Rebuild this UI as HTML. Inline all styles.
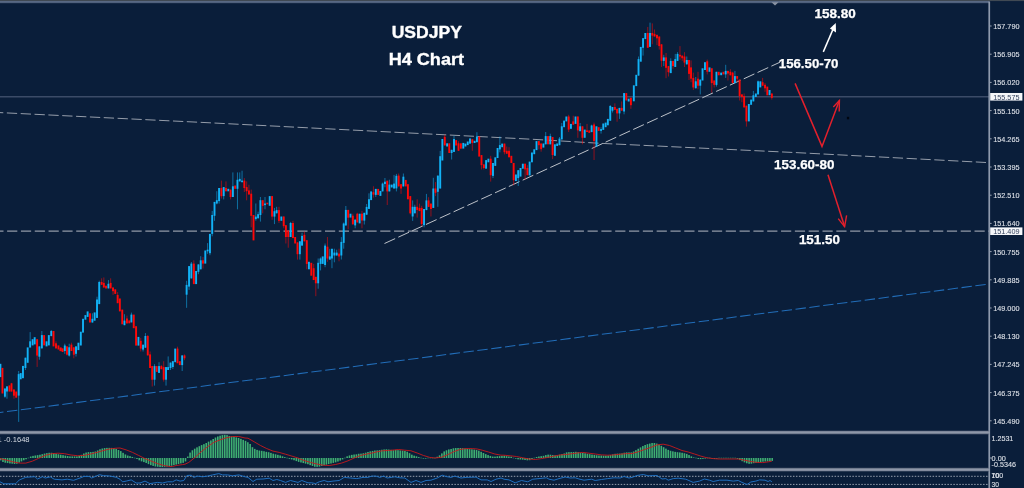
<!DOCTYPE html>
<html lang="en"><head><meta charset="utf-8"><title>USDJPY H4 Chart</title>
<style>html,body{margin:0;padding:0;background:#0a1e3a;overflow:hidden}svg{display:block}text{font-family:"Liberation Sans",Arial,sans-serif}.ax{font-size:8px;fill:#dde1e8;stroke:#dde1e8;stroke-width:0.1px}.lbl{font-size:11.9px;font-weight:bold;fill:#ffffff;stroke:#ffffff;stroke-width:0.25px}.ttl{font-size:16.3px;font-weight:bold;fill:#ffffff;stroke:#ffffff;stroke-width:0.35px}</style></head><body>
<svg width="1024" height="488" viewBox="0 0 1024 488">
<defs><linearGradient id="tb" x1="0" y1="0" x2="0" y2="1"><stop offset="0" stop-color="#434f62"/><stop offset="0.55" stop-color="#5d6c86"/><stop offset="1" stop-color="#0a1e3a"/></linearGradient></defs>
<rect x="0" y="0" width="1024" height="488" fill="#0a1e3a"/>
<rect x="0" y="1" width="989.6" height="2" fill="#5c6d8a"/>
<rect x="0" y="2.7" width="989.6" height="0.6" fill="#33435f"/>
<rect x="0" y="0" width="1024" height="1.1" fill="#404953"/>
<polygon points="771.5,2.2 778.5,2.2 775,5.6" fill="#8a93a3"/>
<rect x="0" y="96" width="989" height="1.5" fill="#3b4b67"/>
<polyline points="0.0,112.6 200.0,122.3 400.0,132.5 533.0,139.3 600.0,143.3 800.0,152.8 986.0,162.5" fill="none" stroke="#959daa" stroke-width="1.0" stroke-dasharray="10.3 3.56" stroke-dashoffset="7"/>
<line x1="0" y1="231.1" x2="989" y2="231.1" stroke="#9199a7" stroke-width="1.45" stroke-dasharray="10.2 3.62" stroke-dashoffset="6.7"/>
<line x1="0" y1="412.5" x2="988" y2="284.2" stroke="#226db8" stroke-width="1.05" stroke-dasharray="10.4 3.55" stroke-dashoffset="6.9"/>
<line x1="384.5" y1="243.5" x2="780" y2="62.2" stroke="#c6cad1" stroke-width="0.95" stroke-dasharray="11.7 3.5"/>
<g>
<rect x="-0.54" y="363.8" width="1.9" height="13.3" fill="#12b2f6"/>
<rect x="1.51" y="367.9" width="1.9" height="25.6" fill="#ff0808"/>
<rect x="4.42" y="388.5" width="1" height="9.2" fill="#12b2f6" opacity="0.55"/>
<rect x="3.97" y="388.5" width="1.9" height="8.2" fill="#12b2f6"/>
<rect x="6.47" y="386.4" width="1" height="12.3" fill="#12b2f6" opacity="0.55"/>
<rect x="6.02" y="386.4" width="1.9" height="5.1" fill="#12b2f6"/>
<rect x="8.49" y="385.4" width="1.9" height="6.2" fill="#ff0808"/>
<rect x="10.99" y="382.9" width="1" height="8.6" fill="#ff0808" opacity="0.55"/>
<rect x="10.54" y="383.3" width="1.9" height="8.2" fill="#ff0808"/>
<rect x="13.45" y="389.5" width="1" height="9.2" fill="#ff0808" opacity="0.55"/>
<rect x="13.00" y="389.5" width="1.9" height="6.2" fill="#ff0808"/>
<rect x="15.26" y="391.5" width="1.9" height="6.2" fill="#ff0808"/>
<rect x="18.17" y="371.0" width="1" height="50.9" fill="#12b2f6" opacity="0.55"/>
<rect x="17.72" y="374.1" width="1.9" height="21.5" fill="#12b2f6"/>
<rect x="19.77" y="373.1" width="1.9" height="6.2" fill="#12b2f6"/>
<rect x="22.02" y="365.9" width="1.9" height="12.3" fill="#12b2f6"/>
<rect x="24.94" y="357.7" width="1" height="12.3" fill="#12b2f6" opacity="0.55"/>
<rect x="24.49" y="357.7" width="1.9" height="10.3" fill="#12b2f6"/>
<rect x="26.74" y="347.4" width="1.9" height="15.4" fill="#12b2f6"/>
<rect x="29.65" y="332.1" width="1" height="15.4" fill="#12b2f6" opacity="0.55"/>
<rect x="29.20" y="341.3" width="1.9" height="6.2" fill="#12b2f6"/>
<rect x="31.67" y="339.2" width="1.9" height="6.2" fill="#12b2f6"/>
<rect x="33.72" y="337.2" width="1.9" height="7.2" fill="#12b2f6"/>
<rect x="36.63" y="339.2" width="1" height="27.7" fill="#ff0808" opacity="0.55"/>
<rect x="36.18" y="339.2" width="1.9" height="16.4" fill="#ff0808"/>
<rect x="38.88" y="346.4" width="1" height="13.3" fill="#12b2f6" opacity="0.55"/>
<rect x="38.43" y="346.4" width="1.9" height="10.3" fill="#12b2f6"/>
<rect x="41.35" y="331.0" width="1" height="17.4" fill="#12b2f6" opacity="0.55"/>
<rect x="40.90" y="335.1" width="1.9" height="13.3" fill="#12b2f6"/>
<rect x="43.15" y="335.1" width="1.9" height="10.3" fill="#ff0808"/>
<rect x="45.61" y="341.3" width="1.9" height="5.1" fill="#12b2f6"/>
<rect x="47.87" y="335.1" width="1.9" height="10.3" fill="#12b2f6"/>
<rect x="50.78" y="330.0" width="1" height="6.2" fill="#12b2f6" opacity="0.55"/>
<rect x="50.33" y="331.0" width="1.9" height="5.1" fill="#12b2f6"/>
<rect x="52.59" y="331.0" width="1.9" height="15.4" fill="#ff0808"/>
<rect x="55.50" y="341.3" width="1" height="7.2" fill="#ff0808" opacity="0.55"/>
<rect x="55.05" y="343.3" width="1.9" height="5.1" fill="#ff0808"/>
<rect x="57.51" y="345.4" width="1.9" height="4.1" fill="#ff0808"/>
<rect x="59.60" y="348.3" width="1.9" height="2.8" fill="#ff0808"/>
<rect x="59.77" y="347.4" width="1.9" height="3.7" fill="#ff0808"/>
<rect x="61.63" y="348.3" width="1.9" height="3.7" fill="#ff0808"/>
<rect x="64.29" y="343.7" width="1" height="10.1" fill="#12b2f6" opacity="0.55"/>
<rect x="63.84" y="345.5" width="1.9" height="5.5" fill="#12b2f6"/>
<rect x="66.50" y="346.4" width="1" height="9.2" fill="#ff0808" opacity="0.55"/>
<rect x="66.05" y="346.4" width="1.9" height="8.3" fill="#ff0808"/>
<rect x="68.71" y="343.7" width="1" height="12.9" fill="#12b2f6" opacity="0.55"/>
<rect x="68.26" y="347.3" width="1.9" height="8.3" fill="#12b2f6"/>
<rect x="70.92" y="342.7" width="1" height="8.3" fill="#ff0808" opacity="0.55"/>
<rect x="70.47" y="344.6" width="1.9" height="6.4" fill="#ff0808"/>
<rect x="73.31" y="347.3" width="1" height="11.0" fill="#ff0808" opacity="0.55"/>
<rect x="72.86" y="347.3" width="1.9" height="7.4" fill="#ff0808"/>
<rect x="75.52" y="346.4" width="1" height="10.1" fill="#12b2f6" opacity="0.55"/>
<rect x="75.07" y="346.4" width="1.9" height="7.4" fill="#12b2f6"/>
<rect x="77.47" y="342.7" width="1.9" height="7.4" fill="#12b2f6"/>
<rect x="79.86" y="331.7" width="1.9" height="13.8" fill="#12b2f6"/>
<rect x="82.07" y="318.8" width="1.9" height="13.8" fill="#12b2f6"/>
<rect x="84.46" y="315.1" width="1.9" height="4.6" fill="#12b2f6"/>
<rect x="86.67" y="311.4" width="1.9" height="5.5" fill="#12b2f6"/>
<rect x="89.07" y="313.3" width="1.9" height="9.2" fill="#ff0808"/>
<rect x="91.91" y="313.3" width="1" height="9.2" fill="#12b2f6" opacity="0.55"/>
<rect x="91.46" y="318.8" width="1.9" height="3.7" fill="#12b2f6"/>
<rect x="93.67" y="312.4" width="1.9" height="8.3" fill="#12b2f6"/>
<rect x="96.52" y="296.7" width="1" height="21.2" fill="#12b2f6" opacity="0.55"/>
<rect x="96.07" y="299.5" width="1.9" height="18.4" fill="#12b2f6"/>
<rect x="98.73" y="280.7" width="1" height="23.4" fill="#12b2f6" opacity="0.55"/>
<rect x="98.28" y="282.0" width="1.9" height="22.1" fill="#12b2f6"/>
<rect x="101.12" y="278.3" width="1" height="6.4" fill="#ff0808" opacity="0.55"/>
<rect x="100.67" y="282.0" width="1.9" height="2.8" fill="#ff0808"/>
<rect x="103.33" y="277.4" width="1" height="10.1" fill="#ff0808" opacity="0.55"/>
<rect x="102.88" y="282.9" width="1.9" height="4.6" fill="#ff0808"/>
<rect x="105.09" y="285.7" width="1.9" height="2.8" fill="#ff0808"/>
<rect x="107.93" y="280.1" width="1" height="8.3" fill="#12b2f6" opacity="0.55"/>
<rect x="107.48" y="283.8" width="1.9" height="4.6" fill="#12b2f6"/>
<rect x="110.14" y="278.3" width="1" height="10.1" fill="#ff0808" opacity="0.55"/>
<rect x="109.69" y="282.9" width="1.9" height="5.5" fill="#ff0808"/>
<rect x="112.54" y="287.5" width="1" height="7.4" fill="#ff0808" opacity="0.55"/>
<rect x="112.09" y="287.5" width="1.9" height="3.7" fill="#ff0808"/>
<rect x="114.30" y="289.3" width="1.9" height="4.6" fill="#ff0808"/>
<rect x="117.14" y="292.1" width="1" height="11.0" fill="#ff0808" opacity="0.55"/>
<rect x="116.69" y="294.9" width="1.9" height="8.3" fill="#ff0808"/>
<rect x="118.90" y="298.5" width="1.9" height="12.9" fill="#ff0808"/>
<rect x="121.30" y="309.6" width="1.9" height="14.7" fill="#ff0808"/>
<rect x="123.96" y="314.2" width="1" height="11.0" fill="#12b2f6" opacity="0.55"/>
<rect x="123.51" y="320.6" width="1.9" height="4.6" fill="#12b2f6"/>
<rect x="126.44" y="315.6" width="1" height="7.8" fill="#ff0808" opacity="0.55"/>
<rect x="125.99" y="318.5" width="1.9" height="4.9" fill="#ff0808"/>
<rect x="128.33" y="320.4" width="1.9" height="2.9" fill="#ff0808"/>
<rect x="130.92" y="312.6" width="1" height="9.7" fill="#12b2f6" opacity="0.55"/>
<rect x="130.47" y="314.6" width="1.9" height="7.8" fill="#12b2f6"/>
<rect x="132.80" y="314.6" width="1.9" height="13.6" fill="#ff0808"/>
<rect x="135.13" y="326.2" width="1.9" height="19.4" fill="#ff0808"/>
<rect x="137.47" y="336.9" width="1.9" height="8.7" fill="#12b2f6"/>
<rect x="140.25" y="337.9" width="1" height="13.6" fill="#ff0808" opacity="0.55"/>
<rect x="139.80" y="340.8" width="1.9" height="7.8" fill="#ff0808"/>
<rect x="142.58" y="344.7" width="1" height="6.8" fill="#12b2f6" opacity="0.55"/>
<rect x="142.13" y="344.7" width="1.9" height="4.9" fill="#12b2f6"/>
<rect x="144.92" y="333.1" width="1" height="14.6" fill="#12b2f6" opacity="0.55"/>
<rect x="144.47" y="336.0" width="1.9" height="11.7" fill="#12b2f6"/>
<rect x="147.25" y="335.0" width="1" height="20.4" fill="#ff0808" opacity="0.55"/>
<rect x="146.80" y="336.0" width="1.9" height="19.4" fill="#ff0808"/>
<rect x="149.58" y="351.5" width="1" height="16.5" fill="#ff0808" opacity="0.55"/>
<rect x="149.13" y="354.4" width="1.9" height="13.6" fill="#ff0808"/>
<rect x="151.72" y="366.1" width="1" height="20.4" fill="#ff0808" opacity="0.55"/>
<rect x="151.27" y="366.1" width="1.9" height="13.6" fill="#ff0808"/>
<rect x="154.05" y="364.2" width="1" height="21.4" fill="#12b2f6" opacity="0.55"/>
<rect x="153.60" y="366.1" width="1.9" height="13.6" fill="#12b2f6"/>
<rect x="155.74" y="366.1" width="1.9" height="5.8" fill="#ff0808"/>
<rect x="158.53" y="362.2" width="1" height="10.7" fill="#12b2f6" opacity="0.55"/>
<rect x="158.08" y="366.1" width="1.9" height="6.8" fill="#12b2f6"/>
<rect x="160.86" y="365.1" width="1" height="4.1" fill="#ff0808" opacity="0.55"/>
<rect x="160.41" y="366.1" width="1.9" height="3.1" fill="#ff0808"/>
<rect x="163.19" y="361.2" width="1" height="20.4" fill="#ff0808" opacity="0.55"/>
<rect x="162.74" y="367.1" width="1.9" height="12.6" fill="#ff0808"/>
<rect x="165.53" y="367.1" width="1" height="18.5" fill="#12b2f6" opacity="0.55"/>
<rect x="165.08" y="367.1" width="1.9" height="12.6" fill="#12b2f6"/>
<rect x="167.67" y="356.4" width="1" height="13.6" fill="#12b2f6" opacity="0.55"/>
<rect x="167.22" y="367.1" width="1.9" height="2.9" fill="#12b2f6"/>
<rect x="170.00" y="362.6" width="1" height="7.4" fill="#12b2f6" opacity="0.55"/>
<rect x="169.55" y="362.6" width="1.9" height="5.4" fill="#12b2f6"/>
<rect x="172.33" y="361.2" width="1" height="7.8" fill="#12b2f6" opacity="0.55"/>
<rect x="171.88" y="361.2" width="1.9" height="5.8" fill="#12b2f6"/>
<rect x="174.22" y="348.6" width="1.9" height="13.6" fill="#12b2f6"/>
<rect x="177.00" y="346.7" width="1" height="16.5" fill="#ff0808" opacity="0.55"/>
<rect x="176.55" y="348.6" width="1.9" height="14.6" fill="#ff0808"/>
<rect x="178.88" y="361.2" width="1.9" height="3.9" fill="#ff0808"/>
<rect x="181.67" y="355.4" width="1" height="15.6" fill="#12b2f6" opacity="0.55"/>
<rect x="181.22" y="355.4" width="1.9" height="9.7" fill="#12b2f6"/>
<rect x="184.00" y="354.4" width="1" height="5.8" fill="#ff0808" opacity="0.55"/>
<rect x="183.55" y="355.4" width="1.9" height="2.9" fill="#ff0808"/>
<rect x="186.11" y="280.8" width="1" height="27.0" fill="#12b2f6" opacity="0.55"/>
<rect x="185.66" y="284.9" width="1.9" height="9.8" fill="#12b2f6"/>
<rect x="188.57" y="266.1" width="1" height="23.8" fill="#12b2f6" opacity="0.55"/>
<rect x="188.12" y="266.1" width="1.9" height="20.5" fill="#12b2f6"/>
<rect x="190.86" y="262.0" width="1" height="16.4" fill="#12b2f6" opacity="0.55"/>
<rect x="190.41" y="263.6" width="1.9" height="14.8" fill="#12b2f6"/>
<rect x="193.32" y="260.3" width="1" height="23.8" fill="#ff0808" opacity="0.55"/>
<rect x="192.87" y="263.6" width="1.9" height="20.5" fill="#ff0808"/>
<rect x="195.16" y="271.0" width="1.9" height="13.1" fill="#12b2f6"/>
<rect x="197.91" y="264.4" width="1" height="9.8" fill="#12b2f6" opacity="0.55"/>
<rect x="197.46" y="264.4" width="1.9" height="7.4" fill="#12b2f6"/>
<rect x="200.20" y="256.2" width="1" height="13.1" fill="#12b2f6" opacity="0.55"/>
<rect x="199.75" y="260.3" width="1.9" height="9.0" fill="#12b2f6"/>
<rect x="202.50" y="257.0" width="1" height="11.5" fill="#ff0808" opacity="0.55"/>
<rect x="202.05" y="260.3" width="1.9" height="3.3" fill="#ff0808"/>
<rect x="204.35" y="250.5" width="1.9" height="13.1" fill="#12b2f6"/>
<rect x="207.09" y="243.1" width="1" height="10.7" fill="#12b2f6" opacity="0.55"/>
<rect x="206.64" y="249.7" width="1.9" height="1.6" fill="#12b2f6"/>
<rect x="209.42" y="233.9" width="1" height="21.3" fill="#12b2f6" opacity="0.55"/>
<rect x="208.97" y="233.9" width="1.9" height="19.3" fill="#12b2f6"/>
<rect x="211.71" y="210.9" width="1" height="25.4" fill="#12b2f6" opacity="0.55"/>
<rect x="211.26" y="215.0" width="1.9" height="18.9" fill="#12b2f6"/>
<rect x="214.01" y="201.9" width="1" height="18.9" fill="#12b2f6" opacity="0.55"/>
<rect x="213.56" y="201.9" width="1.9" height="13.9" fill="#12b2f6"/>
<rect x="216.30" y="191.2" width="1" height="13.1" fill="#12b2f6" opacity="0.55"/>
<rect x="215.85" y="200.2" width="1.9" height="3.3" fill="#12b2f6"/>
<rect x="218.60" y="188.0" width="1" height="15.6" fill="#12b2f6" opacity="0.55"/>
<rect x="218.15" y="188.0" width="1.9" height="13.1" fill="#12b2f6"/>
<rect x="220.89" y="180.6" width="1" height="18.0" fill="#ff0808" opacity="0.55"/>
<rect x="220.44" y="188.0" width="1.9" height="8.2" fill="#ff0808"/>
<rect x="223.19" y="187.1" width="1" height="12.3" fill="#12b2f6" opacity="0.55"/>
<rect x="222.74" y="187.1" width="1.9" height="9.0" fill="#12b2f6"/>
<rect x="225.48" y="181.4" width="1" height="9.8" fill="#ff0808" opacity="0.55"/>
<rect x="225.03" y="188.0" width="1.9" height="3.3" fill="#ff0808"/>
<rect x="227.33" y="188.8" width="1.9" height="2.5" fill="#12b2f6"/>
<rect x="230.07" y="189.6" width="1" height="9.8" fill="#ff0808" opacity="0.55"/>
<rect x="229.62" y="189.6" width="1.9" height="7.4" fill="#ff0808"/>
<rect x="232.37" y="172.4" width="1" height="24.6" fill="#12b2f6" opacity="0.55"/>
<rect x="231.92" y="186.3" width="1.9" height="10.7" fill="#12b2f6"/>
<rect x="234.21" y="185.5" width="1.9" height="3.3" fill="#ff0808"/>
<rect x="236.96" y="172.4" width="1" height="36.9" fill="#12b2f6" opacity="0.55"/>
<rect x="236.51" y="179.8" width="1.9" height="9.0" fill="#12b2f6"/>
<rect x="239.25" y="172.4" width="1" height="9.0" fill="#12b2f6" opacity="0.55"/>
<rect x="238.80" y="178.9" width="1.9" height="2.5" fill="#12b2f6"/>
<rect x="241.55" y="170.7" width="1" height="11.5" fill="#12b2f6" opacity="0.55"/>
<rect x="241.10" y="180.6" width="1.9" height="1.6" fill="#12b2f6"/>
<rect x="243.84" y="178.1" width="1" height="13.9" fill="#ff0808" opacity="0.55"/>
<rect x="243.39" y="180.6" width="1.9" height="7.4" fill="#ff0808"/>
<rect x="246.14" y="181.4" width="1" height="18.9" fill="#ff0808" opacity="0.55"/>
<rect x="245.69" y="187.1" width="1.9" height="4.1" fill="#ff0808"/>
<rect x="248.43" y="184.7" width="1" height="9.8" fill="#ff0808" opacity="0.55"/>
<rect x="247.98" y="190.4" width="1.9" height="4.1" fill="#ff0808"/>
<rect x="250.73" y="189.6" width="1" height="37.7" fill="#ff0808" opacity="0.55"/>
<rect x="250.28" y="193.7" width="1.9" height="22.1" fill="#ff0808"/>
<rect x="252.57" y="215.0" width="1.9" height="25.4" fill="#ff0808"/>
<rect x="255.32" y="203.5" width="1" height="17.2" fill="#12b2f6" opacity="0.55"/>
<rect x="254.87" y="216.6" width="1.9" height="2.5" fill="#12b2f6"/>
<rect x="257.61" y="211.7" width="1" height="6.6" fill="#12b2f6" opacity="0.55"/>
<rect x="257.16" y="214.2" width="1.9" height="4.1" fill="#12b2f6"/>
<rect x="259.91" y="197.0" width="1" height="24.6" fill="#12b2f6" opacity="0.55"/>
<rect x="259.46" y="200.2" width="1.9" height="14.8" fill="#12b2f6"/>
<rect x="262.20" y="200.2" width="1" height="13.1" fill="#ff0808" opacity="0.55"/>
<rect x="261.75" y="200.2" width="1.9" height="5.7" fill="#ff0808"/>
<rect x="264.50" y="197.0" width="1" height="12.3" fill="#12b2f6" opacity="0.55"/>
<rect x="264.05" y="203.5" width="1.9" height="1.6" fill="#12b2f6"/>
<rect x="266.35" y="202.7" width="1.9" height="1.6" fill="#ff0808"/>
<rect x="268.77" y="196.1" width="1.9" height="9.7" fill="#12b2f6"/>
<rect x="271.59" y="196.1" width="1" height="23.7" fill="#ff0808" opacity="0.55"/>
<rect x="271.14" y="196.1" width="1.9" height="20.5" fill="#ff0808"/>
<rect x="273.96" y="207.9" width="1" height="16.2" fill="#12b2f6" opacity="0.55"/>
<rect x="273.51" y="211.2" width="1.9" height="5.4" fill="#12b2f6"/>
<rect x="276.12" y="206.8" width="1" height="6.5" fill="#12b2f6" opacity="0.55"/>
<rect x="275.67" y="210.1" width="1.9" height="3.2" fill="#12b2f6"/>
<rect x="278.48" y="206.8" width="1" height="16.2" fill="#ff0808" opacity="0.55"/>
<rect x="278.03" y="210.1" width="1.9" height="10.8" fill="#ff0808"/>
<rect x="280.40" y="216.5" width="1.9" height="4.3" fill="#12b2f6"/>
<rect x="283.22" y="216.5" width="1" height="11.8" fill="#ff0808" opacity="0.55"/>
<rect x="282.77" y="216.5" width="1.9" height="9.7" fill="#ff0808"/>
<rect x="285.38" y="225.2" width="1" height="18.3" fill="#ff0808" opacity="0.55"/>
<rect x="284.93" y="225.2" width="1.9" height="11.8" fill="#ff0808"/>
<rect x="287.75" y="230.5" width="1" height="17.2" fill="#ff0808" opacity="0.55"/>
<rect x="287.30" y="230.5" width="1.9" height="6.5" fill="#ff0808"/>
<rect x="290.11" y="221.9" width="1" height="15.1" fill="#12b2f6" opacity="0.55"/>
<rect x="289.66" y="223.0" width="1.9" height="14.0" fill="#12b2f6"/>
<rect x="292.48" y="220.8" width="1" height="17.2" fill="#ff0808" opacity="0.55"/>
<rect x="292.03" y="223.0" width="1.9" height="15.1" fill="#ff0808"/>
<rect x="294.19" y="237.0" width="1.9" height="6.5" fill="#ff0808"/>
<rect x="297.01" y="242.4" width="1" height="17.2" fill="#ff0808" opacity="0.55"/>
<rect x="296.56" y="242.4" width="1.9" height="11.8" fill="#ff0808"/>
<rect x="299.38" y="241.3" width="1" height="18.3" fill="#12b2f6" opacity="0.55"/>
<rect x="298.93" y="241.3" width="1.9" height="12.9" fill="#12b2f6"/>
<rect x="301.53" y="232.7" width="1" height="12.9" fill="#12b2f6" opacity="0.55"/>
<rect x="301.08" y="235.9" width="1.9" height="9.7" fill="#12b2f6"/>
<rect x="303.90" y="231.6" width="1" height="9.7" fill="#ff0808" opacity="0.55"/>
<rect x="303.45" y="234.8" width="1.9" height="6.5" fill="#ff0808"/>
<rect x="306.27" y="240.2" width="1" height="29.1" fill="#ff0808" opacity="0.55"/>
<rect x="305.82" y="240.2" width="1.9" height="23.7" fill="#ff0808"/>
<rect x="307.97" y="261.8" width="1.9" height="7.5" fill="#12b2f6"/>
<rect x="310.34" y="262.8" width="1.9" height="12.9" fill="#ff0808"/>
<rect x="313.16" y="263.9" width="1" height="16.2" fill="#ff0808" opacity="0.55"/>
<rect x="312.71" y="268.2" width="1.9" height="11.8" fill="#ff0808"/>
<rect x="315.31" y="276.8" width="1" height="19.4" fill="#ff0808" opacity="0.55"/>
<rect x="314.86" y="276.8" width="1.9" height="6.5" fill="#ff0808"/>
<rect x="317.68" y="258.5" width="1" height="30.2" fill="#12b2f6" opacity="0.55"/>
<rect x="317.23" y="262.8" width="1.9" height="20.5" fill="#12b2f6"/>
<rect x="320.05" y="257.5" width="1" height="12.9" fill="#12b2f6" opacity="0.55"/>
<rect x="319.60" y="258.5" width="1.9" height="5.4" fill="#12b2f6"/>
<rect x="321.76" y="256.4" width="1.9" height="7.5" fill="#12b2f6"/>
<rect x="324.58" y="243.5" width="1" height="23.7" fill="#12b2f6" opacity="0.55"/>
<rect x="324.13" y="245.6" width="1.9" height="19.4" fill="#12b2f6"/>
<rect x="326.94" y="237.0" width="1" height="24.8" fill="#ff0808" opacity="0.55"/>
<rect x="326.49" y="246.7" width="1.9" height="11.8" fill="#ff0808"/>
<rect x="329.31" y="248.8" width="1" height="10.8" fill="#12b2f6" opacity="0.55"/>
<rect x="328.86" y="256.4" width="1.9" height="3.2" fill="#12b2f6"/>
<rect x="331.47" y="248.8" width="1" height="19.4" fill="#12b2f6" opacity="0.55"/>
<rect x="331.02" y="248.8" width="1.9" height="9.7" fill="#12b2f6"/>
<rect x="333.86" y="248.7" width="1" height="13.6" fill="#12b2f6" opacity="0.55"/>
<rect x="333.41" y="252.6" width="1.9" height="2.9" fill="#12b2f6"/>
<rect x="336.19" y="249.7" width="1" height="5.8" fill="#12b2f6" opacity="0.55"/>
<rect x="335.74" y="252.6" width="1.9" height="2.9" fill="#12b2f6"/>
<rect x="338.53" y="248.7" width="1" height="12.6" fill="#ff0808" opacity="0.55"/>
<rect x="338.08" y="253.6" width="1.9" height="2.9" fill="#ff0808"/>
<rect x="340.86" y="237.1" width="1" height="22.4" fill="#12b2f6" opacity="0.55"/>
<rect x="340.41" y="241.9" width="1.9" height="13.6" fill="#12b2f6"/>
<rect x="343.19" y="222.5" width="1" height="26.2" fill="#12b2f6" opacity="0.55"/>
<rect x="342.74" y="223.5" width="1.9" height="19.4" fill="#12b2f6"/>
<rect x="345.33" y="206.0" width="1" height="19.4" fill="#12b2f6" opacity="0.55"/>
<rect x="344.88" y="209.9" width="1.9" height="15.6" fill="#12b2f6"/>
<rect x="347.67" y="209.9" width="1" height="19.4" fill="#ff0808" opacity="0.55"/>
<rect x="347.22" y="209.9" width="1.9" height="7.8" fill="#ff0808"/>
<rect x="349.55" y="213.7" width="1.9" height="3.9" fill="#12b2f6"/>
<rect x="352.33" y="213.7" width="1" height="10.7" fill="#ff0808" opacity="0.55"/>
<rect x="351.88" y="215.7" width="1.9" height="8.7" fill="#ff0808"/>
<rect x="354.67" y="219.6" width="1" height="8.7" fill="#12b2f6" opacity="0.55"/>
<rect x="354.22" y="219.6" width="1.9" height="5.8" fill="#12b2f6"/>
<rect x="356.80" y="212.8" width="1" height="9.7" fill="#ff0808" opacity="0.55"/>
<rect x="356.35" y="213.7" width="1.9" height="8.7" fill="#ff0808"/>
<rect x="358.69" y="213.7" width="1.9" height="9.7" fill="#12b2f6"/>
<rect x="361.47" y="210.8" width="1" height="17.5" fill="#ff0808" opacity="0.55"/>
<rect x="361.02" y="213.7" width="1.9" height="6.8" fill="#ff0808"/>
<rect x="363.80" y="212.8" width="1" height="11.7" fill="#12b2f6" opacity="0.55"/>
<rect x="363.35" y="212.8" width="1.9" height="7.8" fill="#12b2f6"/>
<rect x="366.14" y="204.0" width="1" height="10.7" fill="#12b2f6" opacity="0.55"/>
<rect x="365.69" y="206.9" width="1.9" height="7.8" fill="#12b2f6"/>
<rect x="368.47" y="193.3" width="1" height="15.6" fill="#12b2f6" opacity="0.55"/>
<rect x="368.02" y="199.2" width="1.9" height="9.7" fill="#12b2f6"/>
<rect x="370.16" y="191.4" width="1.9" height="8.7" fill="#12b2f6"/>
<rect x="372.94" y="186.3" width="1" height="11.3" fill="#ff0808" opacity="0.55"/>
<rect x="372.49" y="192.2" width="1.9" height="2.4" fill="#ff0808"/>
<rect x="375.28" y="188.9" width="1" height="8.0" fill="#12b2f6" opacity="0.55"/>
<rect x="374.83" y="188.9" width="1.9" height="6.0" fill="#12b2f6"/>
<rect x="377.16" y="188.9" width="1.9" height="6.0" fill="#ff0808"/>
<rect x="379.49" y="190.9" width="1.9" height="5.0" fill="#12b2f6"/>
<rect x="382.08" y="182.6" width="1" height="8.7" fill="#12b2f6" opacity="0.55"/>
<rect x="381.63" y="183.6" width="1.9" height="7.8" fill="#12b2f6"/>
<rect x="384.42" y="178.0" width="1" height="9.3" fill="#12b2f6" opacity="0.55"/>
<rect x="383.97" y="181.7" width="1.9" height="2.3" fill="#12b2f6"/>
<rect x="386.75" y="180.7" width="1" height="24.3" fill="#ff0808" opacity="0.55"/>
<rect x="386.30" y="180.7" width="1.9" height="10.7" fill="#ff0808"/>
<rect x="388.89" y="179.7" width="1" height="11.7" fill="#12b2f6" opacity="0.55"/>
<rect x="388.44" y="184.6" width="1.9" height="6.8" fill="#12b2f6"/>
<rect x="390.77" y="184.6" width="1.9" height="2.9" fill="#12b2f6"/>
<rect x="393.55" y="174.9" width="1" height="13.6" fill="#12b2f6" opacity="0.55"/>
<rect x="393.10" y="183.6" width="1.9" height="4.9" fill="#12b2f6"/>
<rect x="395.89" y="173.9" width="1" height="17.5" fill="#12b2f6" opacity="0.55"/>
<rect x="395.44" y="175.8" width="1.9" height="12.6" fill="#12b2f6"/>
<rect x="398.15" y="173.5" width="1" height="12.9" fill="#ff0808" opacity="0.55"/>
<rect x="397.70" y="175.6" width="1.9" height="10.8" fill="#ff0808"/>
<rect x="400.52" y="184.2" width="1" height="9.7" fill="#ff0808" opacity="0.55"/>
<rect x="400.07" y="184.2" width="1.9" height="4.3" fill="#ff0808"/>
<rect x="402.88" y="173.5" width="1" height="12.9" fill="#12b2f6" opacity="0.55"/>
<rect x="402.43" y="176.7" width="1.9" height="9.7" fill="#12b2f6"/>
<rect x="404.80" y="179.9" width="1.9" height="6.5" fill="#ff0808"/>
<rect x="406.96" y="184.2" width="1.9" height="15.1" fill="#ff0808"/>
<rect x="409.78" y="196.1" width="1" height="18.3" fill="#ff0808" opacity="0.55"/>
<rect x="409.33" y="196.1" width="1.9" height="17.2" fill="#ff0808"/>
<rect x="412.15" y="200.4" width="1" height="20.5" fill="#12b2f6" opacity="0.55"/>
<rect x="411.70" y="206.8" width="1.9" height="9.7" fill="#12b2f6"/>
<rect x="414.30" y="204.7" width="1" height="8.6" fill="#12b2f6" opacity="0.55"/>
<rect x="413.85" y="206.8" width="1.9" height="6.5" fill="#12b2f6"/>
<rect x="416.67" y="199.3" width="1" height="18.3" fill="#ff0808" opacity="0.55"/>
<rect x="416.22" y="206.8" width="1.9" height="3.2" fill="#ff0808"/>
<rect x="419.04" y="203.6" width="1" height="7.5" fill="#ff0808" opacity="0.55"/>
<rect x="418.59" y="207.9" width="1.9" height="3.2" fill="#ff0808"/>
<rect x="421.19" y="205.8" width="1" height="20.5" fill="#ff0808" opacity="0.55"/>
<rect x="420.74" y="207.9" width="1.9" height="16.2" fill="#ff0808"/>
<rect x="423.56" y="209.0" width="1" height="18.3" fill="#12b2f6" opacity="0.55"/>
<rect x="423.11" y="209.0" width="1.9" height="16.2" fill="#12b2f6"/>
<rect x="425.93" y="193.9" width="1" height="16.2" fill="#12b2f6" opacity="0.55"/>
<rect x="425.48" y="200.4" width="1.9" height="9.7" fill="#12b2f6"/>
<rect x="428.08" y="197.2" width="1" height="9.7" fill="#ff0808" opacity="0.55"/>
<rect x="427.63" y="200.4" width="1.9" height="6.5" fill="#ff0808"/>
<rect x="430.45" y="203.6" width="1" height="12.9" fill="#ff0808" opacity="0.55"/>
<rect x="430.00" y="203.6" width="1.9" height="5.4" fill="#ff0808"/>
<rect x="432.82" y="177.8" width="1" height="30.2" fill="#12b2f6" opacity="0.55"/>
<rect x="432.37" y="188.5" width="1.9" height="19.4" fill="#12b2f6"/>
<rect x="434.98" y="182.1" width="1" height="14.0" fill="#ff0808" opacity="0.55"/>
<rect x="434.53" y="188.5" width="1.9" height="4.3" fill="#ff0808"/>
<rect x="437.34" y="175.6" width="1" height="31.2" fill="#12b2f6" opacity="0.55"/>
<rect x="436.89" y="175.6" width="1.9" height="16.2" fill="#12b2f6"/>
<rect x="439.71" y="150.8" width="1" height="37.7" fill="#12b2f6" opacity="0.55"/>
<rect x="439.26" y="156.2" width="1.9" height="32.3" fill="#12b2f6"/>
<rect x="441.42" y="139.0" width="1.9" height="21.5" fill="#12b2f6"/>
<rect x="444.24" y="134.7" width="1" height="10.8" fill="#ff0808" opacity="0.55"/>
<rect x="443.79" y="136.8" width="1.9" height="8.6" fill="#ff0808"/>
<rect x="446.16" y="143.3" width="1.9" height="3.2" fill="#12b2f6"/>
<rect x="448.31" y="143.3" width="1.9" height="9.7" fill="#ff0808"/>
<rect x="451.13" y="149.8" width="1" height="9.7" fill="#12b2f6" opacity="0.55"/>
<rect x="450.68" y="149.8" width="1.9" height="3.2" fill="#12b2f6"/>
<rect x="453.50" y="135.8" width="1" height="16.2" fill="#12b2f6" opacity="0.55"/>
<rect x="453.05" y="139.0" width="1.9" height="12.9" fill="#12b2f6"/>
<rect x="455.20" y="140.1" width="1.9" height="5.4" fill="#ff0808"/>
<rect x="458.02" y="141.2" width="1" height="9.7" fill="#ff0808" opacity="0.55"/>
<rect x="457.57" y="143.3" width="1.9" height="7.5" fill="#ff0808"/>
<rect x="459.94" y="143.3" width="1.9" height="5.4" fill="#ff0808"/>
<rect x="462.34" y="142.9" width="1.9" height="5.7" fill="#12b2f6"/>
<rect x="464.49" y="143.6" width="1.9" height="2.9" fill="#12b2f6"/>
<rect x="466.78" y="141.5" width="1.9" height="3.6" fill="#12b2f6"/>
<rect x="469.53" y="137.9" width="1" height="5.7" fill="#12b2f6" opacity="0.55"/>
<rect x="469.08" y="138.6" width="1.9" height="5.0" fill="#12b2f6"/>
<rect x="471.82" y="139.3" width="1" height="11.5" fill="#ff0808" opacity="0.55"/>
<rect x="471.37" y="139.3" width="1.9" height="3.6" fill="#ff0808"/>
<rect x="473.67" y="140.8" width="1.9" height="2.2" fill="#12b2f6"/>
<rect x="476.41" y="132.2" width="1" height="10.0" fill="#12b2f6" opacity="0.55"/>
<rect x="475.96" y="136.5" width="1.9" height="5.7" fill="#12b2f6"/>
<rect x="478.26" y="136.5" width="1.9" height="20.1" fill="#ff0808"/>
<rect x="481.01" y="155.1" width="1" height="14.3" fill="#ff0808" opacity="0.55"/>
<rect x="480.56" y="155.1" width="1.9" height="10.0" fill="#ff0808"/>
<rect x="483.30" y="164.4" width="1" height="5.0" fill="#ff0808" opacity="0.55"/>
<rect x="482.85" y="164.4" width="1.9" height="3.6" fill="#ff0808"/>
<rect x="485.15" y="160.1" width="1.9" height="8.6" fill="#12b2f6"/>
<rect x="487.44" y="158.7" width="1.9" height="3.6" fill="#12b2f6"/>
<rect x="490.19" y="155.8" width="1" height="25.8" fill="#ff0808" opacity="0.55"/>
<rect x="489.74" y="158.7" width="1.9" height="16.5" fill="#ff0808"/>
<rect x="492.48" y="163.0" width="1" height="15.1" fill="#12b2f6" opacity="0.55"/>
<rect x="492.03" y="163.0" width="1.9" height="12.9" fill="#12b2f6"/>
<rect x="494.33" y="157.3" width="1.9" height="8.6" fill="#12b2f6"/>
<rect x="496.62" y="148.0" width="1.9" height="10.0" fill="#12b2f6"/>
<rect x="499.37" y="136.5" width="1" height="15.8" fill="#12b2f6" opacity="0.55"/>
<rect x="498.92" y="145.1" width="1.9" height="4.3" fill="#12b2f6"/>
<rect x="501.21" y="143.6" width="1.9" height="3.6" fill="#12b2f6"/>
<rect x="503.96" y="143.6" width="1" height="10.8" fill="#ff0808" opacity="0.55"/>
<rect x="503.51" y="143.6" width="1.9" height="8.6" fill="#ff0808"/>
<rect x="506.25" y="146.5" width="1" height="7.2" fill="#ff0808" opacity="0.55"/>
<rect x="505.80" y="150.8" width="1.9" height="2.9" fill="#ff0808"/>
<rect x="508.55" y="147.2" width="1" height="10.0" fill="#ff0808" opacity="0.55"/>
<rect x="508.10" y="150.8" width="1.9" height="6.5" fill="#ff0808"/>
<rect x="510.39" y="155.8" width="1.9" height="7.2" fill="#ff0808"/>
<rect x="513.14" y="163.0" width="1" height="22.2" fill="#ff0808" opacity="0.55"/>
<rect x="512.69" y="163.0" width="1.9" height="17.2" fill="#ff0808"/>
<rect x="514.98" y="174.5" width="1.9" height="6.5" fill="#12b2f6"/>
<rect x="517.73" y="170.2" width="1" height="15.8" fill="#12b2f6" opacity="0.55"/>
<rect x="517.28" y="170.2" width="1.9" height="7.9" fill="#12b2f6"/>
<rect x="519.57" y="168.0" width="1.9" height="8.6" fill="#12b2f6"/>
<rect x="521.87" y="163.7" width="1.9" height="5.0" fill="#12b2f6"/>
<rect x="524.61" y="163.7" width="1" height="15.8" fill="#ff0808" opacity="0.55"/>
<rect x="524.16" y="163.7" width="1.9" height="5.7" fill="#ff0808"/>
<rect x="526.91" y="165.2" width="1" height="10.0" fill="#ff0808" opacity="0.55"/>
<rect x="526.46" y="168.0" width="1.9" height="7.2" fill="#ff0808"/>
<rect x="528.69" y="161.6" width="1.9" height="13.9" fill="#12b2f6"/>
<rect x="530.98" y="152.5" width="1.9" height="9.8" fill="#12b2f6"/>
<rect x="533.28" y="149.3" width="1.9" height="4.9" fill="#12b2f6"/>
<rect x="535.57" y="141.1" width="1.9" height="9.0" fill="#12b2f6"/>
<rect x="538.32" y="141.1" width="1" height="8.2" fill="#ff0808" opacity="0.55"/>
<rect x="537.87" y="141.1" width="1.9" height="4.1" fill="#ff0808"/>
<rect x="540.61" y="143.5" width="1" height="8.2" fill="#ff0808" opacity="0.55"/>
<rect x="540.16" y="143.5" width="1.9" height="5.7" fill="#ff0808"/>
<rect x="542.46" y="143.5" width="1.9" height="4.1" fill="#12b2f6"/>
<rect x="545.20" y="132.0" width="1" height="12.3" fill="#12b2f6" opacity="0.55"/>
<rect x="544.75" y="136.1" width="1.9" height="8.2" fill="#12b2f6"/>
<rect x="547.05" y="136.1" width="1.9" height="8.2" fill="#ff0808"/>
<rect x="549.80" y="133.7" width="1" height="10.7" fill="#12b2f6" opacity="0.55"/>
<rect x="549.35" y="136.1" width="1.9" height="8.2" fill="#12b2f6"/>
<rect x="552.09" y="137.0" width="1" height="22.1" fill="#ff0808" opacity="0.55"/>
<rect x="551.64" y="137.0" width="1.9" height="18.0" fill="#ff0808"/>
<rect x="553.94" y="144.3" width="1.9" height="11.5" fill="#12b2f6"/>
<rect x="556.23" y="143.5" width="1.9" height="2.5" fill="#12b2f6"/>
<rect x="558.98" y="137.0" width="1" height="8.2" fill="#12b2f6" opacity="0.55"/>
<rect x="558.53" y="138.6" width="1.9" height="6.6" fill="#12b2f6"/>
<rect x="561.27" y="123.0" width="1" height="16.4" fill="#12b2f6" opacity="0.55"/>
<rect x="560.82" y="126.3" width="1.9" height="13.1" fill="#12b2f6"/>
<rect x="563.12" y="120.6" width="1.9" height="6.6" fill="#12b2f6"/>
<rect x="565.41" y="116.5" width="1.9" height="4.9" fill="#12b2f6"/>
<rect x="568.16" y="114.8" width="1" height="17.2" fill="#ff0808" opacity="0.55"/>
<rect x="567.71" y="116.5" width="1.9" height="13.1" fill="#ff0808"/>
<rect x="570.00" y="123.9" width="1.9" height="4.9" fill="#12b2f6"/>
<rect x="572.75" y="115.7" width="1" height="9.0" fill="#ff0808" opacity="0.55"/>
<rect x="572.30" y="121.4" width="1.9" height="3.3" fill="#ff0808"/>
<rect x="574.59" y="116.5" width="1.9" height="7.4" fill="#12b2f6"/>
<rect x="577.34" y="116.5" width="1" height="21.3" fill="#ff0808" opacity="0.55"/>
<rect x="576.89" y="116.5" width="1.9" height="13.9" fill="#ff0808"/>
<rect x="579.63" y="123.0" width="1" height="8.2" fill="#12b2f6" opacity="0.55"/>
<rect x="579.18" y="126.3" width="1.9" height="4.9" fill="#12b2f6"/>
<rect x="581.93" y="126.3" width="1" height="18.0" fill="#ff0808" opacity="0.55"/>
<rect x="581.48" y="126.3" width="1.9" height="11.5" fill="#ff0808"/>
<rect x="583.77" y="129.6" width="1.9" height="8.2" fill="#12b2f6"/>
<rect x="586.52" y="123.9" width="1" height="8.2" fill="#ff0808" opacity="0.55"/>
<rect x="586.07" y="130.4" width="1.9" height="1.6" fill="#ff0808"/>
<rect x="588.36" y="130.4" width="1.9" height="2.5" fill="#ff0808"/>
<rect x="591.11" y="124.7" width="1" height="7.4" fill="#12b2f6" opacity="0.55"/>
<rect x="590.66" y="125.5" width="1.9" height="6.6" fill="#12b2f6"/>
<rect x="593.55" y="122.6" width="1" height="37.4" fill="#ff0808" opacity="0.55"/>
<rect x="593.10" y="124.5" width="1.9" height="16.6" fill="#ff0808"/>
<rect x="595.50" y="126.3" width="1.9" height="20.3" fill="#12b2f6"/>
<rect x="597.71" y="127.2" width="1.9" height="3.7" fill="#ff0808"/>
<rect x="600.55" y="127.2" width="1" height="6.4" fill="#12b2f6" opacity="0.55"/>
<rect x="600.10" y="129.1" width="1.9" height="1.8" fill="#12b2f6"/>
<rect x="602.31" y="123.5" width="1.9" height="6.4" fill="#12b2f6"/>
<rect x="604.70" y="122.6" width="1.9" height="4.6" fill="#12b2f6"/>
<rect x="606.91" y="118.9" width="1.9" height="6.4" fill="#12b2f6"/>
<rect x="609.76" y="105.1" width="1" height="15.7" fill="#12b2f6" opacity="0.55"/>
<rect x="609.31" y="106.0" width="1.9" height="14.7" fill="#12b2f6"/>
<rect x="611.97" y="107.0" width="1" height="5.5" fill="#12b2f6" opacity="0.55"/>
<rect x="611.52" y="107.0" width="1.9" height="3.7" fill="#12b2f6"/>
<rect x="614.36" y="103.3" width="1" height="6.4" fill="#ff0808" opacity="0.55"/>
<rect x="613.91" y="107.0" width="1.9" height="2.8" fill="#ff0808"/>
<rect x="616.57" y="108.8" width="1" height="12.9" fill="#ff0808" opacity="0.55"/>
<rect x="616.12" y="108.8" width="1.9" height="4.6" fill="#ff0808"/>
<rect x="618.97" y="107.9" width="1" height="11.0" fill="#12b2f6" opacity="0.55"/>
<rect x="618.52" y="107.9" width="1.9" height="5.5" fill="#12b2f6"/>
<rect x="621.18" y="101.4" width="1" height="9.2" fill="#ff0808" opacity="0.55"/>
<rect x="620.73" y="107.9" width="1.9" height="2.8" fill="#ff0808"/>
<rect x="623.57" y="93.1" width="1" height="21.2" fill="#12b2f6" opacity="0.55"/>
<rect x="623.12" y="93.1" width="1.9" height="18.4" fill="#12b2f6"/>
<rect x="625.33" y="93.1" width="1.9" height="7.4" fill="#ff0808"/>
<rect x="627.72" y="98.7" width="1.9" height="2.8" fill="#12b2f6"/>
<rect x="630.38" y="97.8" width="1" height="11.0" fill="#ff0808" opacity="0.55"/>
<rect x="629.93" y="97.8" width="1.9" height="7.4" fill="#ff0808"/>
<rect x="632.87" y="85.3" width="1.9" height="16.0" fill="#12b2f6"/>
<rect x="635.31" y="74.8" width="1.9" height="11.3" fill="#12b2f6"/>
<rect x="638.03" y="56.5" width="1" height="19.2" fill="#12b2f6" opacity="0.55"/>
<rect x="637.58" y="59.1" width="1.9" height="16.5" fill="#12b2f6"/>
<rect x="639.84" y="46.9" width="1.9" height="14.8" fill="#12b2f6"/>
<rect x="642.55" y="38.2" width="1" height="17.4" fill="#12b2f6" opacity="0.55"/>
<rect x="642.10" y="38.2" width="1.9" height="9.6" fill="#12b2f6"/>
<rect x="644.37" y="33.0" width="1.9" height="6.1" fill="#12b2f6"/>
<rect x="647.25" y="26.9" width="1" height="20.9" fill="#ff0808" opacity="0.55"/>
<rect x="646.80" y="33.0" width="1.9" height="14.8" fill="#ff0808"/>
<rect x="649.52" y="22.6" width="1" height="24.4" fill="#12b2f6" opacity="0.55"/>
<rect x="649.07" y="33.0" width="1.9" height="13.9" fill="#12b2f6"/>
<rect x="651.78" y="23.4" width="1" height="20.9" fill="#ff0808" opacity="0.55"/>
<rect x="651.33" y="33.0" width="1.9" height="2.6" fill="#ff0808"/>
<rect x="654.04" y="29.5" width="1" height="7.0" fill="#ff0808" opacity="0.55"/>
<rect x="653.59" y="33.9" width="1.9" height="2.6" fill="#ff0808"/>
<rect x="656.48" y="34.8" width="1" height="10.4" fill="#ff0808" opacity="0.55"/>
<rect x="656.03" y="34.8" width="1.9" height="3.5" fill="#ff0808"/>
<rect x="658.75" y="36.5" width="1" height="13.1" fill="#ff0808" opacity="0.55"/>
<rect x="658.30" y="36.5" width="1.9" height="9.6" fill="#ff0808"/>
<rect x="661.01" y="44.3" width="1" height="22.6" fill="#ff0808" opacity="0.55"/>
<rect x="660.56" y="44.3" width="1.9" height="16.5" fill="#ff0808"/>
<rect x="663.27" y="54.8" width="1" height="11.3" fill="#12b2f6" opacity="0.55"/>
<rect x="662.82" y="57.4" width="1.9" height="3.5" fill="#12b2f6"/>
<rect x="665.54" y="53.0" width="1" height="25.2" fill="#ff0808" opacity="0.55"/>
<rect x="665.09" y="57.4" width="1.9" height="10.4" fill="#ff0808"/>
<rect x="667.97" y="66.1" width="1" height="10.4" fill="#ff0808" opacity="0.55"/>
<rect x="667.52" y="66.1" width="1.9" height="6.1" fill="#ff0808"/>
<rect x="670.24" y="58.3" width="1" height="14.8" fill="#12b2f6" opacity="0.55"/>
<rect x="669.79" y="60.9" width="1.9" height="12.2" fill="#12b2f6"/>
<rect x="672.50" y="60.9" width="1" height="7.8" fill="#ff0808" opacity="0.55"/>
<rect x="672.05" y="60.9" width="1.9" height="5.2" fill="#ff0808"/>
<rect x="674.77" y="53.9" width="1" height="13.1" fill="#12b2f6" opacity="0.55"/>
<rect x="674.32" y="59.1" width="1.9" height="7.8" fill="#12b2f6"/>
<rect x="677.03" y="52.2" width="1" height="8.7" fill="#12b2f6" opacity="0.55"/>
<rect x="676.58" y="53.9" width="1.9" height="7.0" fill="#12b2f6"/>
<rect x="679.47" y="46.1" width="1" height="13.9" fill="#ff0808" opacity="0.55"/>
<rect x="679.02" y="54.8" width="1.9" height="1.7" fill="#ff0808"/>
<rect x="681.73" y="55.6" width="1" height="5.2" fill="#ff0808" opacity="0.55"/>
<rect x="681.28" y="55.6" width="1.9" height="2.6" fill="#ff0808"/>
<rect x="683.99" y="52.2" width="1" height="14.8" fill="#ff0808" opacity="0.55"/>
<rect x="683.54" y="56.5" width="1.9" height="6.1" fill="#ff0808"/>
<rect x="686.26" y="56.5" width="1" height="7.8" fill="#12b2f6" opacity="0.55"/>
<rect x="685.81" y="60.0" width="1.9" height="4.4" fill="#12b2f6"/>
<rect x="688.52" y="60.0" width="1" height="20.0" fill="#ff0808" opacity="0.55"/>
<rect x="688.07" y="60.0" width="1.9" height="13.9" fill="#ff0808"/>
<rect x="690.54" y="60.4" width="1" height="21.8" fill="#ff0808" opacity="0.55"/>
<rect x="690.09" y="67.4" width="1.9" height="11.3" fill="#ff0808"/>
<rect x="692.81" y="72.6" width="1" height="17.4" fill="#ff0808" opacity="0.55"/>
<rect x="692.36" y="77.9" width="1.9" height="9.6" fill="#ff0808"/>
<rect x="695.25" y="77.0" width="1" height="11.3" fill="#12b2f6" opacity="0.55"/>
<rect x="694.80" y="81.3" width="1.9" height="7.0" fill="#12b2f6"/>
<rect x="697.51" y="71.8" width="1" height="17.4" fill="#ff0808" opacity="0.55"/>
<rect x="697.06" y="78.7" width="1.9" height="7.0" fill="#ff0808"/>
<rect x="699.77" y="79.6" width="1" height="14.8" fill="#12b2f6" opacity="0.55"/>
<rect x="699.32" y="79.6" width="1.9" height="6.1" fill="#12b2f6"/>
<rect x="701.58" y="68.3" width="1.9" height="12.2" fill="#12b2f6"/>
<rect x="704.02" y="62.2" width="1.9" height="7.8" fill="#12b2f6"/>
<rect x="706.74" y="59.6" width="1" height="14.8" fill="#ff0808" opacity="0.55"/>
<rect x="706.29" y="61.3" width="1.9" height="10.4" fill="#ff0808"/>
<rect x="708.55" y="67.4" width="1.9" height="4.4" fill="#12b2f6"/>
<rect x="711.26" y="68.3" width="1" height="24.4" fill="#ff0808" opacity="0.55"/>
<rect x="710.81" y="68.3" width="1.9" height="14.8" fill="#ff0808"/>
<rect x="713.70" y="80.5" width="1" height="7.0" fill="#ff0808" opacity="0.55"/>
<rect x="713.25" y="80.5" width="1.9" height="4.4" fill="#ff0808"/>
<rect x="715.96" y="71.8" width="1" height="14.8" fill="#12b2f6" opacity="0.55"/>
<rect x="715.51" y="71.8" width="1.9" height="13.1" fill="#12b2f6"/>
<rect x="717.78" y="71.8" width="1.9" height="3.5" fill="#ff0808"/>
<rect x="720.21" y="72.6" width="1.9" height="2.6" fill="#12b2f6"/>
<rect x="722.48" y="71.8" width="1.9" height="2.6" fill="#ff0808"/>
<rect x="725.19" y="64.8" width="1" height="13.1" fill="#12b2f6" opacity="0.55"/>
<rect x="724.74" y="70.9" width="1.9" height="3.5" fill="#12b2f6"/>
<rect x="727.45" y="70.9" width="1" height="9.6" fill="#ff0808" opacity="0.55"/>
<rect x="727.00" y="70.9" width="1.9" height="2.6" fill="#ff0808"/>
<rect x="729.89" y="69.2" width="1" height="6.1" fill="#ff0808" opacity="0.55"/>
<rect x="729.44" y="71.8" width="1.9" height="3.5" fill="#ff0808"/>
<rect x="732.15" y="71.8" width="1" height="11.3" fill="#ff0808" opacity="0.55"/>
<rect x="731.70" y="72.6" width="1.9" height="10.4" fill="#ff0808"/>
<rect x="734.42" y="70.9" width="1" height="12.2" fill="#12b2f6" opacity="0.55"/>
<rect x="733.97" y="76.1" width="1.9" height="7.0" fill="#12b2f6"/>
<rect x="736.68" y="76.1" width="1" height="6.1" fill="#ff0808" opacity="0.55"/>
<rect x="736.23" y="76.1" width="1.9" height="2.6" fill="#ff0808"/>
<rect x="739.12" y="79.6" width="1" height="20.9" fill="#ff0808" opacity="0.55"/>
<rect x="738.67" y="79.6" width="1.9" height="16.5" fill="#ff0808"/>
<rect x="741.38" y="94.4" width="1" height="7.8" fill="#ff0808" opacity="0.55"/>
<rect x="740.93" y="94.4" width="1.9" height="2.6" fill="#ff0808"/>
<rect x="743.64" y="93.5" width="1" height="13.9" fill="#ff0808" opacity="0.55"/>
<rect x="743.19" y="96.1" width="1.9" height="11.3" fill="#ff0808"/>
<rect x="745.91" y="105.7" width="1" height="20.9" fill="#ff0808" opacity="0.55"/>
<rect x="745.46" y="105.7" width="1.9" height="15.7" fill="#ff0808"/>
<rect x="747.89" y="104.0" width="1.9" height="17.4" fill="#12b2f6"/>
<rect x="750.16" y="99.6" width="1.9" height="5.2" fill="#12b2f6"/>
<rect x="752.87" y="90.9" width="1" height="10.4" fill="#12b2f6" opacity="0.55"/>
<rect x="752.42" y="95.3" width="1.9" height="6.1" fill="#12b2f6"/>
<rect x="754.86" y="93.5" width="1.9" height="3.5" fill="#12b2f6"/>
<rect x="757.57" y="80.5" width="1" height="13.9" fill="#12b2f6" opacity="0.55"/>
<rect x="757.12" y="81.3" width="1.9" height="13.1" fill="#12b2f6"/>
<rect x="759.38" y="81.3" width="1.9" height="6.1" fill="#12b2f6"/>
<rect x="762.10" y="77.9" width="1" height="7.8" fill="#ff0808" opacity="0.55"/>
<rect x="761.65" y="82.2" width="1.9" height="3.5" fill="#ff0808"/>
<rect x="764.53" y="83.1" width="1" height="8.7" fill="#ff0808" opacity="0.55"/>
<rect x="764.08" y="84.8" width="1.9" height="3.5" fill="#ff0808"/>
<rect x="766.35" y="86.6" width="1.9" height="8.7" fill="#ff0808"/>
<rect x="768.61" y="90.0" width="1.9" height="5.2" fill="#12b2f6"/>
<rect x="771.32" y="93.5" width="1" height="6.1" fill="#ff0808" opacity="0.55"/>
<rect x="770.87" y="93.5" width="1.9" height="4.4" fill="#ff0808"/>
</g>
<rect x="988.4" y="1.6" width="1.7" height="486.4" fill="#8f9aac"/>
<rect x="990.2" y="25.5" width="1.3" height="1" fill="#b9c0cc"/>
<text class="ax" x="993.2" y="28.9" textLength="26.3" lengthAdjust="spacingAndGlyphs">157.790</text>
<rect x="990.2" y="53.7" width="1.3" height="1" fill="#b9c0cc"/>
<text class="ax" x="993.2" y="57.1" textLength="26.3" lengthAdjust="spacingAndGlyphs">156.905</text>
<rect x="990.2" y="81.9" width="1.3" height="1" fill="#b9c0cc"/>
<text class="ax" x="993.2" y="85.3" textLength="26.3" lengthAdjust="spacingAndGlyphs">156.020</text>
<rect x="990.2" y="110.1" width="1.3" height="1" fill="#b9c0cc"/>
<text class="ax" x="993.2" y="113.5" textLength="26.3" lengthAdjust="spacingAndGlyphs">155.150</text>
<rect x="990.2" y="138.3" width="1.3" height="1" fill="#b9c0cc"/>
<text class="ax" x="993.2" y="141.7" textLength="26.3" lengthAdjust="spacingAndGlyphs">154.265</text>
<rect x="990.2" y="166.5" width="1.3" height="1" fill="#b9c0cc"/>
<text class="ax" x="993.2" y="169.9" textLength="26.3" lengthAdjust="spacingAndGlyphs">153.395</text>
<rect x="990.2" y="194.7" width="1.3" height="1" fill="#b9c0cc"/>
<text class="ax" x="993.2" y="198.1" textLength="26.3" lengthAdjust="spacingAndGlyphs">152.510</text>
<rect x="990.2" y="222.9" width="1.3" height="1" fill="#b9c0cc"/>
<text class="ax" x="993.2" y="226.3" textLength="26.3" lengthAdjust="spacingAndGlyphs">151.640</text>
<rect x="990.2" y="251.1" width="1.3" height="1" fill="#b9c0cc"/>
<text class="ax" x="993.2" y="254.5" textLength="26.3" lengthAdjust="spacingAndGlyphs">150.755</text>
<rect x="990.2" y="279.3" width="1.3" height="1" fill="#b9c0cc"/>
<text class="ax" x="993.2" y="282.7" textLength="26.3" lengthAdjust="spacingAndGlyphs">149.885</text>
<rect x="990.2" y="307.5" width="1.3" height="1" fill="#b9c0cc"/>
<text class="ax" x="993.2" y="310.9" textLength="26.3" lengthAdjust="spacingAndGlyphs">149.000</text>
<rect x="990.2" y="335.7" width="1.3" height="1" fill="#b9c0cc"/>
<text class="ax" x="993.2" y="339.1" textLength="26.3" lengthAdjust="spacingAndGlyphs">148.130</text>
<rect x="990.2" y="363.9" width="1.3" height="1" fill="#b9c0cc"/>
<text class="ax" x="993.2" y="367.3" textLength="26.3" lengthAdjust="spacingAndGlyphs">147.245</text>
<rect x="990.2" y="392.1" width="1.3" height="1" fill="#b9c0cc"/>
<text class="ax" x="993.2" y="395.5" textLength="26.3" lengthAdjust="spacingAndGlyphs">146.375</text>
<rect x="990.2" y="420.3" width="1.3" height="1" fill="#b9c0cc"/>
<text class="ax" x="993.2" y="423.7" textLength="26.3" lengthAdjust="spacingAndGlyphs">145.490</text>
<rect x="990.2" y="93.0" width="32.2" height="7.6" fill="#f4f6f9"/>
<text x="993.2" y="99.7" font-size="8" fill="#33415c" textLength="26.3" lengthAdjust="spacingAndGlyphs">155.575</text>
<rect x="990.2" y="227.4" width="32.2" height="7.6" fill="#f4f6f9"/>
<text x="993.2" y="234.1" font-size="8" fill="#33415c" textLength="26.3" lengthAdjust="spacingAndGlyphs">151.409</text>
<text class="ttl" x="391.7" y="37.5" textLength="70.2" lengthAdjust="spacingAndGlyphs">USDJPY</text>
<text class="ttl" x="388.7" y="64.8" textLength="75.3" lengthAdjust="spacingAndGlyphs">H4 Chart</text>
<text class="lbl" x="814.5" y="18.1" textLength="41.3" lengthAdjust="spacingAndGlyphs">158.80</text>
<text class="lbl" x="778.8" y="68.1" textLength="59.6" lengthAdjust="spacingAndGlyphs">156.50-70</text>
<text class="lbl" x="774.1" y="168.7" textLength="60.3" lengthAdjust="spacingAndGlyphs">153.60-80</text>
<text class="lbl" x="798.9" y="244.4" textLength="41.0" lengthAdjust="spacingAndGlyphs">151.50</text>
<line x1="823.3" y1="51.9" x2="834.6" y2="25.6" stroke="#ffffff" stroke-width="1.5"/>
<polygon points="835.8,22.9 836.0,32.6 829.9,28.6" fill="#ffffff"/>
<polyline points="795.1,83.4 822,146.4 839.4,100.6" fill="none" stroke="#e3202c" stroke-width="1.5" stroke-linejoin="miter"/>
<polyline points="833.3,106.9 839.4,100.6 839.2,111.6" fill="none" stroke="#e3202c" stroke-width="1.4"/>
<line x1="828" y1="174.7" x2="844.6" y2="226.6" stroke="#e3202c" stroke-width="1.5"/>
<polyline points="838.2,218.6 844.6,226.6 846.6,215.3" fill="none" stroke="#e3202c" stroke-width="1.4"/>
<rect x="846.9" y="116.8" width="2.3" height="2.5" fill="#000610"/>
<rect x="0" y="431.0" width="989.3" height="2.9" fill="#8e97a8"/>
<rect x="0" y="430.7" width="989.3" height="0.6" fill="#566178"/>
<rect x="0" y="433.7" width="989.3" height="0.6" fill="#566178"/>
<rect x="0" y="468.1" width="989.3" height="2.9" fill="#8e97a8"/>
<rect x="0" y="467.8" width="989.3" height="0.6" fill="#566178"/>
<rect x="0" y="470.8" width="989.3" height="0.6" fill="#566178"/>
<g>
<rect x="771.40" y="458.00" width="1.6" height="2.90" fill="#3fae72"/>
<rect x="769.09" y="458.00" width="1.6" height="3.14" fill="#3fae72"/>
<rect x="766.78" y="458.00" width="1.6" height="3.37" fill="#3fae72"/>
<rect x="764.47" y="458.00" width="1.6" height="3.49" fill="#3fae72"/>
<rect x="762.16" y="458.00" width="1.6" height="3.70" fill="#3fae72"/>
<rect x="759.85" y="458.00" width="1.6" height="4.03" fill="#3fae72"/>
<rect x="757.54" y="458.00" width="1.6" height="4.55" fill="#3fae72"/>
<rect x="755.23" y="458.00" width="1.6" height="4.85" fill="#3fae72"/>
<rect x="752.92" y="458.00" width="1.6" height="5.19" fill="#3fae72"/>
<rect x="750.61" y="458.00" width="1.6" height="5.68" fill="#3fae72"/>
<rect x="748.30" y="458.00" width="1.6" height="5.80" fill="#3fae72"/>
<rect x="745.99" y="458.00" width="1.6" height="5.29" fill="#3fae72"/>
<rect x="743.68" y="458.00" width="1.6" height="4.37" fill="#3fae72"/>
<rect x="741.37" y="458.00" width="1.6" height="3.21" fill="#3fae72"/>
<rect x="739.06" y="458.00" width="1.6" height="2.06" fill="#3fae72"/>
<rect x="736.75" y="458.00" width="1.6" height="0.90" fill="#3fae72"/>
<rect x="734.44" y="457.75" width="1.6" height="0.50" fill="#3fae72"/>
<rect x="732.13" y="457.75" width="1.6" height="0.50" fill="#3fae72"/>
<rect x="729.82" y="457.75" width="1.6" height="0.50" fill="#3fae72"/>
<rect x="727.51" y="457.75" width="1.6" height="0.50" fill="#3fae72"/>
<rect x="725.20" y="457.75" width="1.6" height="0.50" fill="#3fae72"/>
<rect x="722.89" y="457.75" width="1.6" height="0.50" fill="#3fae72"/>
<rect x="720.58" y="457.75" width="1.6" height="0.50" fill="#3fae72"/>
<rect x="718.27" y="457.75" width="1.6" height="0.50" fill="#3fae72"/>
<rect x="715.96" y="458.00" width="1.6" height="0.66" fill="#3fae72"/>
<rect x="713.65" y="458.00" width="1.6" height="0.99" fill="#3fae72"/>
<rect x="711.34" y="458.00" width="1.6" height="0.65" fill="#3fae72"/>
<rect x="709.03" y="457.75" width="1.6" height="0.50" fill="#3fae72"/>
<rect x="706.72" y="457.75" width="1.6" height="0.50" fill="#3fae72"/>
<rect x="704.41" y="458.00" width="1.6" height="0.55" fill="#3fae72"/>
<rect x="702.10" y="458.00" width="1.6" height="0.86" fill="#3fae72"/>
<rect x="699.79" y="458.00" width="1.6" height="1.14" fill="#3fae72"/>
<rect x="697.48" y="458.00" width="1.6" height="0.95" fill="#3fae72"/>
<rect x="695.17" y="457.75" width="1.6" height="0.50" fill="#3fae72"/>
<rect x="692.86" y="457.41" width="1.6" height="0.59" fill="#3fae72"/>
<rect x="690.55" y="456.36" width="1.6" height="1.64" fill="#3fae72"/>
<rect x="688.24" y="455.02" width="1.6" height="2.98" fill="#3fae72"/>
<rect x="685.93" y="453.92" width="1.6" height="4.08" fill="#3fae72"/>
<rect x="683.62" y="453.23" width="1.6" height="4.77" fill="#3fae72"/>
<rect x="681.31" y="452.77" width="1.6" height="5.23" fill="#3fae72"/>
<rect x="679.00" y="452.42" width="1.6" height="5.58" fill="#3fae72"/>
<rect x="676.69" y="452.17" width="1.6" height="5.83" fill="#3fae72"/>
<rect x="674.38" y="451.85" width="1.6" height="6.15" fill="#3fae72"/>
<rect x="672.07" y="451.34" width="1.6" height="6.66" fill="#3fae72"/>
<rect x="669.76" y="450.77" width="1.6" height="7.23" fill="#3fae72"/>
<rect x="667.45" y="449.88" width="1.6" height="8.12" fill="#3fae72"/>
<rect x="665.14" y="448.61" width="1.6" height="9.39" fill="#3fae72"/>
<rect x="662.83" y="447.18" width="1.6" height="10.82" fill="#3fae72"/>
<rect x="660.52" y="445.79" width="1.6" height="12.21" fill="#3fae72"/>
<rect x="658.21" y="444.63" width="1.6" height="13.37" fill="#3fae72"/>
<rect x="655.90" y="443.55" width="1.6" height="14.45" fill="#3fae72"/>
<rect x="653.59" y="443.00" width="1.6" height="15.00" fill="#3fae72"/>
<rect x="651.28" y="443.00" width="1.6" height="15.00" fill="#3fae72"/>
<rect x="648.97" y="443.56" width="1.6" height="14.44" fill="#3fae72"/>
<rect x="646.66" y="444.13" width="1.6" height="13.87" fill="#3fae72"/>
<rect x="644.35" y="444.99" width="1.6" height="13.01" fill="#3fae72"/>
<rect x="642.04" y="446.08" width="1.6" height="11.92" fill="#3fae72"/>
<rect x="639.73" y="447.38" width="1.6" height="10.62" fill="#3fae72"/>
<rect x="637.42" y="448.77" width="1.6" height="9.23" fill="#3fae72"/>
<rect x="635.11" y="450.21" width="1.6" height="7.79" fill="#3fae72"/>
<rect x="632.80" y="451.44" width="1.6" height="6.56" fill="#3fae72"/>
<rect x="630.49" y="452.38" width="1.6" height="5.62" fill="#3fae72"/>
<rect x="628.18" y="452.38" width="1.6" height="5.62" fill="#3fae72"/>
<rect x="625.87" y="452.38" width="1.6" height="5.62" fill="#3fae72"/>
<rect x="623.56" y="452.70" width="1.6" height="5.30" fill="#3fae72"/>
<rect x="621.25" y="453.43" width="1.6" height="4.57" fill="#3fae72"/>
<rect x="618.94" y="453.62" width="1.6" height="4.38" fill="#3fae72"/>
<rect x="616.63" y="453.62" width="1.6" height="4.38" fill="#3fae72"/>
<rect x="614.32" y="453.83" width="1.6" height="4.17" fill="#3fae72"/>
<rect x="612.01" y="454.42" width="1.6" height="3.58" fill="#3fae72"/>
<rect x="609.70" y="455.12" width="1.6" height="2.88" fill="#3fae72"/>
<rect x="607.39" y="455.58" width="1.6" height="2.42" fill="#3fae72"/>
<rect x="605.08" y="455.75" width="1.6" height="2.25" fill="#3fae72"/>
<rect x="602.77" y="455.71" width="1.6" height="2.29" fill="#3fae72"/>
<rect x="600.46" y="455.50" width="1.6" height="2.50" fill="#3fae72"/>
<rect x="598.15" y="455.50" width="1.6" height="2.50" fill="#3fae72"/>
<rect x="595.84" y="455.26" width="1.6" height="2.74" fill="#3fae72"/>
<rect x="593.53" y="454.92" width="1.6" height="3.08" fill="#3fae72"/>
<rect x="591.22" y="454.58" width="1.6" height="3.42" fill="#3fae72"/>
<rect x="588.91" y="454.14" width="1.6" height="3.86" fill="#3fae72"/>
<rect x="586.60" y="453.76" width="1.6" height="4.24" fill="#3fae72"/>
<rect x="584.29" y="453.27" width="1.6" height="4.73" fill="#3fae72"/>
<rect x="581.98" y="452.88" width="1.6" height="5.12" fill="#3fae72"/>
<rect x="579.67" y="452.60" width="1.6" height="5.40" fill="#3fae72"/>
<rect x="577.36" y="452.17" width="1.6" height="5.83" fill="#3fae72"/>
<rect x="575.05" y="451.81" width="1.6" height="6.19" fill="#3fae72"/>
<rect x="572.74" y="452.02" width="1.6" height="5.98" fill="#3fae72"/>
<rect x="570.43" y="452.12" width="1.6" height="5.88" fill="#3fae72"/>
<rect x="568.12" y="452.13" width="1.6" height="5.87" fill="#3fae72"/>
<rect x="565.81" y="452.36" width="1.6" height="5.64" fill="#3fae72"/>
<rect x="563.50" y="453.47" width="1.6" height="4.53" fill="#3fae72"/>
<rect x="561.19" y="454.13" width="1.6" height="3.87" fill="#3fae72"/>
<rect x="558.88" y="454.70" width="1.6" height="3.30" fill="#3fae72"/>
<rect x="556.57" y="455.28" width="1.6" height="2.72" fill="#3fae72"/>
<rect x="554.26" y="455.36" width="1.6" height="2.64" fill="#3fae72"/>
<rect x="551.95" y="455.06" width="1.6" height="2.94" fill="#3fae72"/>
<rect x="549.64" y="454.72" width="1.6" height="3.28" fill="#3fae72"/>
<rect x="547.33" y="454.63" width="1.6" height="3.37" fill="#3fae72"/>
<rect x="545.02" y="455.11" width="1.6" height="2.89" fill="#3fae72"/>
<rect x="542.71" y="455.82" width="1.6" height="2.18" fill="#3fae72"/>
<rect x="540.40" y="456.17" width="1.6" height="1.83" fill="#3fae72"/>
<rect x="538.09" y="456.52" width="1.6" height="1.48" fill="#3fae72"/>
<rect x="535.78" y="456.98" width="1.6" height="1.02" fill="#3fae72"/>
<rect x="533.47" y="457.75" width="1.6" height="0.50" fill="#3fae72"/>
<rect x="531.16" y="458.00" width="1.6" height="1.02" fill="#3fae72"/>
<rect x="528.85" y="458.00" width="1.6" height="2.17" fill="#3fae72"/>
<rect x="526.54" y="458.00" width="1.6" height="2.33" fill="#3fae72"/>
<rect x="524.23" y="458.00" width="1.6" height="2.03" fill="#3fae72"/>
<rect x="521.92" y="458.00" width="1.6" height="1.68" fill="#3fae72"/>
<rect x="519.61" y="458.00" width="1.6" height="1.50" fill="#3fae72"/>
<rect x="517.30" y="458.00" width="1.6" height="1.32" fill="#3fae72"/>
<rect x="514.99" y="458.00" width="1.6" height="0.65" fill="#3fae72"/>
<rect x="512.68" y="457.75" width="1.6" height="0.50" fill="#3fae72"/>
<rect x="510.37" y="456.72" width="1.6" height="1.28" fill="#3fae72"/>
<rect x="508.06" y="456.48" width="1.6" height="1.52" fill="#3fae72"/>
<rect x="505.75" y="456.13" width="1.6" height="1.87" fill="#3fae72"/>
<rect x="503.44" y="455.79" width="1.6" height="2.21" fill="#3fae72"/>
<rect x="501.13" y="455.99" width="1.6" height="2.01" fill="#3fae72"/>
<rect x="498.82" y="456.12" width="1.6" height="1.88" fill="#3fae72"/>
<rect x="496.51" y="456.30" width="1.6" height="1.70" fill="#3fae72"/>
<rect x="494.20" y="456.60" width="1.6" height="1.40" fill="#3fae72"/>
<rect x="491.89" y="456.55" width="1.6" height="1.45" fill="#3fae72"/>
<rect x="489.58" y="455.91" width="1.6" height="2.09" fill="#3fae72"/>
<rect x="487.27" y="455.08" width="1.6" height="2.92" fill="#3fae72"/>
<rect x="484.96" y="454.13" width="1.6" height="3.87" fill="#3fae72"/>
<rect x="482.65" y="452.98" width="1.6" height="5.02" fill="#3fae72"/>
<rect x="480.34" y="451.82" width="1.6" height="6.18" fill="#3fae72"/>
<rect x="478.03" y="450.67" width="1.6" height="7.33" fill="#3fae72"/>
<rect x="475.72" y="450.01" width="1.6" height="7.99" fill="#3fae72"/>
<rect x="473.41" y="449.61" width="1.6" height="8.39" fill="#3fae72"/>
<rect x="471.10" y="449.34" width="1.6" height="8.66" fill="#3fae72"/>
<rect x="468.79" y="449.11" width="1.6" height="8.89" fill="#3fae72"/>
<rect x="466.48" y="448.82" width="1.6" height="9.18" fill="#3fae72"/>
<rect x="464.17" y="448.47" width="1.6" height="9.53" fill="#3fae72"/>
<rect x="461.86" y="448.17" width="1.6" height="9.83" fill="#3fae72"/>
<rect x="459.55" y="448.00" width="1.6" height="10.00" fill="#3fae72"/>
<rect x="457.24" y="448.00" width="1.6" height="10.00" fill="#3fae72"/>
<rect x="454.93" y="448.03" width="1.6" height="9.97" fill="#3fae72"/>
<rect x="452.62" y="448.27" width="1.6" height="9.73" fill="#3fae72"/>
<rect x="450.31" y="448.97" width="1.6" height="9.03" fill="#3fae72"/>
<rect x="448.00" y="449.44" width="1.6" height="8.56" fill="#3fae72"/>
<rect x="445.69" y="450.30" width="1.6" height="7.70" fill="#3fae72"/>
<rect x="443.38" y="451.41" width="1.6" height="6.59" fill="#3fae72"/>
<rect x="441.07" y="453.38" width="1.6" height="4.62" fill="#3fae72"/>
<rect x="438.76" y="455.33" width="1.6" height="2.67" fill="#3fae72"/>
<rect x="436.45" y="456.75" width="1.6" height="1.25" fill="#3fae72"/>
<rect x="434.14" y="457.75" width="1.6" height="0.50" fill="#3fae72"/>
<rect x="431.83" y="457.75" width="1.6" height="0.50" fill="#3fae72"/>
<rect x="429.52" y="457.75" width="1.6" height="0.50" fill="#3fae72"/>
<rect x="427.21" y="457.75" width="1.6" height="0.50" fill="#3fae72"/>
<rect x="424.90" y="458.00" width="1.6" height="0.62" fill="#3fae72"/>
<rect x="422.59" y="458.00" width="1.6" height="0.60" fill="#3fae72"/>
<rect x="420.28" y="457.75" width="1.6" height="0.50" fill="#3fae72"/>
<rect x="417.97" y="457.11" width="1.6" height="0.89" fill="#3fae72"/>
<rect x="415.66" y="456.29" width="1.6" height="1.71" fill="#3fae72"/>
<rect x="413.35" y="455.66" width="1.6" height="2.34" fill="#3fae72"/>
<rect x="411.04" y="454.67" width="1.6" height="3.33" fill="#3fae72"/>
<rect x="408.73" y="453.15" width="1.6" height="4.85" fill="#3fae72"/>
<rect x="406.42" y="451.74" width="1.6" height="6.26" fill="#3fae72"/>
<rect x="404.11" y="450.96" width="1.6" height="7.04" fill="#3fae72"/>
<rect x="401.80" y="450.66" width="1.6" height="7.34" fill="#3fae72"/>
<rect x="399.49" y="450.43" width="1.6" height="7.57" fill="#3fae72"/>
<rect x="397.18" y="450.17" width="1.6" height="7.83" fill="#3fae72"/>
<rect x="394.87" y="449.92" width="1.6" height="8.08" fill="#3fae72"/>
<rect x="392.56" y="450.23" width="1.6" height="7.77" fill="#3fae72"/>
<rect x="390.25" y="449.88" width="1.6" height="8.12" fill="#3fae72"/>
<rect x="387.94" y="449.54" width="1.6" height="8.46" fill="#3fae72"/>
<rect x="385.63" y="449.29" width="1.6" height="8.71" fill="#3fae72"/>
<rect x="383.32" y="449.44" width="1.6" height="8.56" fill="#3fae72"/>
<rect x="381.01" y="449.75" width="1.6" height="8.25" fill="#3fae72"/>
<rect x="378.70" y="450.10" width="1.6" height="7.90" fill="#3fae72"/>
<rect x="376.39" y="450.38" width="1.6" height="7.62" fill="#3fae72"/>
<rect x="374.08" y="450.50" width="1.6" height="7.50" fill="#3fae72"/>
<rect x="371.77" y="450.92" width="1.6" height="7.08" fill="#3fae72"/>
<rect x="369.46" y="451.35" width="1.6" height="6.65" fill="#3fae72"/>
<rect x="367.15" y="451.95" width="1.6" height="6.05" fill="#3fae72"/>
<rect x="364.84" y="452.65" width="1.6" height="5.35" fill="#3fae72"/>
<rect x="362.53" y="453.23" width="1.6" height="4.77" fill="#3fae72"/>
<rect x="360.22" y="453.62" width="1.6" height="4.38" fill="#3fae72"/>
<rect x="357.91" y="453.76" width="1.6" height="4.24" fill="#3fae72"/>
<rect x="355.60" y="454.28" width="1.6" height="3.72" fill="#3fae72"/>
<rect x="353.29" y="454.52" width="1.6" height="3.48" fill="#3fae72"/>
<rect x="350.98" y="454.87" width="1.6" height="3.13" fill="#3fae72"/>
<rect x="348.67" y="455.44" width="1.6" height="2.56" fill="#3fae72"/>
<rect x="346.36" y="456.34" width="1.6" height="1.66" fill="#3fae72"/>
<rect x="344.05" y="457.75" width="1.6" height="0.50" fill="#3fae72"/>
<rect x="341.74" y="458.00" width="1.6" height="1.48" fill="#3fae72"/>
<rect x="339.43" y="458.00" width="1.6" height="2.61" fill="#3fae72"/>
<rect x="337.12" y="458.00" width="1.6" height="3.53" fill="#3fae72"/>
<rect x="334.81" y="458.00" width="1.6" height="4.34" fill="#3fae72"/>
<rect x="332.50" y="458.00" width="1.6" height="4.92" fill="#3fae72"/>
<rect x="330.19" y="458.00" width="1.6" height="5.50" fill="#3fae72"/>
<rect x="327.88" y="458.00" width="1.6" height="6.08" fill="#3fae72"/>
<rect x="325.57" y="458.00" width="1.6" height="6.66" fill="#3fae72"/>
<rect x="323.26" y="458.00" width="1.6" height="7.23" fill="#3fae72"/>
<rect x="320.95" y="458.00" width="1.6" height="8.00" fill="#3fae72"/>
<rect x="318.64" y="458.00" width="1.6" height="8.61" fill="#3fae72"/>
<rect x="316.33" y="458.00" width="1.6" height="8.84" fill="#3fae72"/>
<rect x="314.02" y="458.00" width="1.6" height="8.76" fill="#3fae72"/>
<rect x="311.71" y="458.00" width="1.6" height="7.95" fill="#3fae72"/>
<rect x="309.40" y="458.00" width="1.6" height="7.13" fill="#3fae72"/>
<rect x="307.09" y="458.00" width="1.6" height="6.22" fill="#3fae72"/>
<rect x="304.78" y="458.00" width="1.6" height="5.65" fill="#3fae72"/>
<rect x="302.47" y="458.00" width="1.6" height="5.07" fill="#3fae72"/>
<rect x="300.16" y="458.00" width="1.6" height="4.49" fill="#3fae72"/>
<rect x="297.85" y="458.00" width="1.6" height="3.91" fill="#3fae72"/>
<rect x="295.54" y="458.00" width="1.6" height="3.09" fill="#3fae72"/>
<rect x="293.23" y="458.00" width="1.6" height="2.24" fill="#3fae72"/>
<rect x="290.92" y="458.00" width="1.6" height="1.43" fill="#3fae72"/>
<rect x="288.61" y="458.00" width="1.6" height="0.84" fill="#3fae72"/>
<rect x="286.30" y="457.75" width="1.6" height="0.50" fill="#3fae72"/>
<rect x="283.99" y="457.13" width="1.6" height="0.87" fill="#3fae72"/>
<rect x="281.68" y="456.29" width="1.6" height="1.71" fill="#3fae72"/>
<rect x="279.37" y="455.42" width="1.6" height="2.58" fill="#3fae72"/>
<rect x="277.06" y="454.84" width="1.6" height="3.16" fill="#3fae72"/>
<rect x="274.75" y="454.26" width="1.6" height="3.74" fill="#3fae72"/>
<rect x="272.44" y="453.69" width="1.6" height="4.31" fill="#3fae72"/>
<rect x="270.13" y="452.90" width="1.6" height="5.10" fill="#3fae72"/>
<rect x="267.82" y="452.19" width="1.6" height="5.81" fill="#3fae72"/>
<rect x="265.51" y="451.83" width="1.6" height="6.17" fill="#3fae72"/>
<rect x="263.20" y="451.23" width="1.6" height="6.77" fill="#3fae72"/>
<rect x="260.89" y="450.81" width="1.6" height="7.19" fill="#3fae72"/>
<rect x="258.58" y="450.53" width="1.6" height="7.47" fill="#3fae72"/>
<rect x="256.27" y="449.88" width="1.6" height="8.12" fill="#3fae72"/>
<rect x="253.96" y="448.88" width="1.6" height="9.12" fill="#3fae72"/>
<rect x="251.65" y="447.18" width="1.6" height="10.82" fill="#3fae72"/>
<rect x="249.34" y="443.98" width="1.6" height="14.02" fill="#3fae72"/>
<rect x="247.03" y="442.25" width="1.6" height="15.75" fill="#3fae72"/>
<rect x="244.72" y="440.83" width="1.6" height="17.17" fill="#3fae72"/>
<rect x="242.41" y="439.88" width="1.6" height="18.12" fill="#3fae72"/>
<rect x="240.10" y="438.86" width="1.6" height="19.14" fill="#3fae72"/>
<rect x="237.79" y="437.96" width="1.6" height="20.04" fill="#3fae72"/>
<rect x="235.48" y="437.38" width="1.6" height="20.62" fill="#3fae72"/>
<rect x="233.17" y="437.03" width="1.6" height="20.97" fill="#3fae72"/>
<rect x="230.86" y="436.58" width="1.6" height="21.42" fill="#3fae72"/>
<rect x="228.55" y="435.93" width="1.6" height="22.07" fill="#3fae72"/>
<rect x="226.24" y="435.15" width="1.6" height="22.85" fill="#3fae72"/>
<rect x="223.93" y="434.88" width="1.6" height="23.12" fill="#3fae72"/>
<rect x="221.62" y="435.07" width="1.6" height="22.93" fill="#3fae72"/>
<rect x="219.31" y="435.65" width="1.6" height="22.35" fill="#3fae72"/>
<rect x="217.00" y="436.46" width="1.6" height="21.54" fill="#3fae72"/>
<rect x="214.69" y="437.49" width="1.6" height="20.51" fill="#3fae72"/>
<rect x="212.38" y="439.00" width="1.6" height="19.00" fill="#3fae72"/>
<rect x="210.07" y="440.44" width="1.6" height="17.56" fill="#3fae72"/>
<rect x="207.76" y="441.61" width="1.6" height="16.39" fill="#3fae72"/>
<rect x="205.45" y="443.00" width="1.6" height="15.00" fill="#3fae72"/>
<rect x="203.14" y="444.15" width="1.6" height="13.85" fill="#3fae72"/>
<rect x="200.83" y="445.10" width="1.6" height="12.90" fill="#3fae72"/>
<rect x="198.52" y="446.21" width="1.6" height="11.79" fill="#3fae72"/>
<rect x="196.21" y="447.37" width="1.6" height="10.63" fill="#3fae72"/>
<rect x="193.90" y="448.68" width="1.6" height="9.32" fill="#3fae72"/>
<rect x="191.59" y="450.27" width="1.6" height="7.73" fill="#3fae72"/>
<rect x="189.28" y="452.59" width="1.6" height="5.41" fill="#3fae72"/>
<rect x="186.97" y="456.54" width="1.6" height="1.46" fill="#3fae72"/>
<rect x="184.66" y="458.00" width="1.6" height="3.45" fill="#3fae72"/>
<rect x="182.35" y="458.00" width="1.6" height="4.84" fill="#3fae72"/>
<rect x="180.04" y="458.00" width="1.6" height="5.41" fill="#3fae72"/>
<rect x="177.73" y="458.00" width="1.6" height="5.99" fill="#3fae72"/>
<rect x="175.42" y="458.00" width="1.6" height="6.57" fill="#3fae72"/>
<rect x="173.11" y="458.00" width="1.6" height="7.15" fill="#3fae72"/>
<rect x="170.80" y="458.00" width="1.6" height="7.72" fill="#3fae72"/>
<rect x="168.49" y="458.00" width="1.6" height="8.23" fill="#3fae72"/>
<rect x="166.18" y="458.00" width="1.6" height="8.55" fill="#3fae72"/>
<rect x="163.87" y="458.00" width="1.6" height="8.78" fill="#3fae72"/>
<rect x="161.56" y="458.00" width="1.6" height="9.00" fill="#3fae72"/>
<rect x="159.25" y="458.00" width="1.6" height="9.00" fill="#3fae72"/>
<rect x="156.94" y="458.00" width="1.6" height="8.77" fill="#3fae72"/>
<rect x="154.63" y="458.00" width="1.6" height="8.54" fill="#3fae72"/>
<rect x="152.32" y="458.00" width="1.6" height="7.94" fill="#3fae72"/>
<rect x="150.01" y="458.00" width="1.6" height="7.16" fill="#3fae72"/>
<rect x="147.70" y="458.00" width="1.6" height="6.13" fill="#3fae72"/>
<rect x="145.39" y="458.00" width="1.6" height="4.97" fill="#3fae72"/>
<rect x="143.08" y="458.00" width="1.6" height="4.10" fill="#3fae72"/>
<rect x="140.77" y="458.00" width="1.6" height="3.38" fill="#3fae72"/>
<rect x="138.46" y="458.00" width="1.6" height="2.31" fill="#3fae72"/>
<rect x="136.15" y="458.00" width="1.6" height="0.98" fill="#3fae72"/>
<rect x="133.84" y="457.75" width="1.6" height="0.50" fill="#3fae72"/>
<rect x="131.53" y="456.94" width="1.6" height="1.06" fill="#3fae72"/>
<rect x="129.22" y="456.13" width="1.6" height="1.87" fill="#3fae72"/>
<rect x="126.91" y="455.55" width="1.6" height="2.45" fill="#3fae72"/>
<rect x="124.60" y="454.45" width="1.6" height="3.55" fill="#3fae72"/>
<rect x="122.29" y="452.82" width="1.6" height="5.18" fill="#3fae72"/>
<rect x="119.98" y="451.09" width="1.6" height="6.91" fill="#3fae72"/>
<rect x="117.67" y="450.01" width="1.6" height="7.99" fill="#3fae72"/>
<rect x="115.36" y="448.86" width="1.6" height="9.14" fill="#3fae72"/>
<rect x="113.05" y="448.06" width="1.6" height="9.94" fill="#3fae72"/>
<rect x="110.74" y="447.89" width="1.6" height="10.11" fill="#3fae72"/>
<rect x="108.43" y="447.86" width="1.6" height="10.14" fill="#3fae72"/>
<rect x="106.12" y="447.86" width="1.6" height="10.14" fill="#3fae72"/>
<rect x="103.81" y="448.06" width="1.6" height="9.94" fill="#3fae72"/>
<rect x="101.50" y="448.51" width="1.6" height="9.49" fill="#3fae72"/>
<rect x="99.19" y="449.28" width="1.6" height="8.72" fill="#3fae72"/>
<rect x="96.88" y="450.43" width="1.6" height="7.57" fill="#3fae72"/>
<rect x="94.57" y="451.51" width="1.6" height="6.49" fill="#3fae72"/>
<rect x="92.26" y="451.86" width="1.6" height="6.14" fill="#3fae72"/>
<rect x="89.95" y="452.09" width="1.6" height="5.91" fill="#3fae72"/>
<rect x="87.64" y="452.12" width="1.6" height="5.88" fill="#3fae72"/>
<rect x="85.33" y="452.55" width="1.6" height="5.45" fill="#3fae72"/>
<rect x="83.02" y="453.49" width="1.6" height="4.51" fill="#3fae72"/>
<rect x="80.71" y="454.81" width="1.6" height="3.19" fill="#3fae72"/>
<rect x="78.40" y="455.96" width="1.6" height="2.04" fill="#3fae72"/>
<rect x="76.09" y="456.39" width="1.6" height="1.61" fill="#3fae72"/>
<rect x="73.78" y="456.39" width="1.6" height="1.61" fill="#3fae72"/>
<rect x="71.47" y="456.39" width="1.6" height="1.61" fill="#3fae72"/>
<rect x="69.16" y="456.39" width="1.6" height="1.61" fill="#3fae72"/>
<rect x="66.85" y="456.07" width="1.6" height="1.93" fill="#3fae72"/>
<rect x="64.54" y="455.63" width="1.6" height="2.37" fill="#3fae72"/>
<rect x="62.23" y="455.17" width="1.6" height="2.83" fill="#3fae72"/>
<rect x="59.92" y="454.71" width="1.6" height="3.29" fill="#3fae72"/>
<rect x="57.61" y="454.30" width="1.6" height="3.70" fill="#3fae72"/>
<rect x="55.30" y="453.81" width="1.6" height="4.19" fill="#3fae72"/>
<rect x="52.99" y="453.09" width="1.6" height="4.91" fill="#3fae72"/>
<rect x="50.68" y="452.77" width="1.6" height="5.23" fill="#3fae72"/>
<rect x="48.37" y="452.77" width="1.6" height="5.23" fill="#3fae72"/>
<rect x="46.06" y="453.10" width="1.6" height="4.90" fill="#3fae72"/>
<rect x="43.75" y="453.55" width="1.6" height="4.45" fill="#3fae72"/>
<rect x="41.44" y="454.18" width="1.6" height="3.82" fill="#3fae72"/>
<rect x="39.13" y="454.73" width="1.6" height="3.27" fill="#3fae72"/>
<rect x="36.82" y="455.14" width="1.6" height="2.86" fill="#3fae72"/>
<rect x="34.51" y="455.48" width="1.6" height="2.52" fill="#3fae72"/>
<rect x="32.20" y="455.89" width="1.6" height="2.11" fill="#3fae72"/>
<rect x="29.89" y="456.53" width="1.6" height="1.47" fill="#3fae72"/>
<rect x="27.58" y="457.75" width="1.6" height="0.50" fill="#3fae72"/>
<rect x="25.27" y="458.00" width="1.6" height="1.26" fill="#3fae72"/>
<rect x="22.96" y="458.00" width="1.6" height="2.27" fill="#3fae72"/>
<rect x="20.65" y="458.00" width="1.6" height="3.42" fill="#3fae72"/>
<rect x="18.34" y="458.00" width="1.6" height="4.58" fill="#3fae72"/>
<rect x="16.03" y="458.00" width="1.6" height="5.73" fill="#3fae72"/>
<rect x="13.72" y="458.00" width="1.6" height="5.99" fill="#3fae72"/>
<rect x="11.41" y="458.00" width="1.6" height="5.68" fill="#3fae72"/>
<rect x="9.10" y="458.00" width="1.6" height="5.43" fill="#3fae72"/>
<rect x="6.79" y="458.00" width="1.6" height="5.08" fill="#3fae72"/>
<rect x="4.48" y="458.00" width="1.6" height="4.73" fill="#3fae72"/>
<rect x="2.17" y="458.00" width="1.6" height="3.95" fill="#3fae72"/>
<rect x="-0.14" y="458.00" width="1.6" height="2.37" fill="#3fae72"/>
</g>
<polyline points="0.0,458.6 6.5,460.1 12.9,461.8 19.4,463.1 25.8,463.1 32.3,461.2 38.7,458.3 45.2,455.4 51.7,453.7 58.1,453.2 64.6,453.7 71.0,455.0 77.5,455.7 84.0,455.4 90.4,454.1 96.9,452.4 103.3,450.6 109.8,448.9 116.2,448.2 120.0,448.0 126.2,449.9 132.5,452.4 138.8,455.5 145.0,458.6 151.2,461.1 157.5,463.6 163.8,465.5 170.0,466.5 172.5,466.5 176.2,465.5 182.5,464.6 185.0,464.2 188.8,462.4 195.0,457.4 201.2,451.8 207.5,446.8 213.8,442.4 220.0,439.9 226.2,437.8 232.5,436.5 238.8,436.5 245.0,438.0 248.0,438.2 254.2,441.8 260.5,445.5 266.8,448.6 273.0,451.1 279.2,452.4 285.5,454.2 291.8,456.1 298.0,458.0 304.2,460.5 310.5,462.4 316.8,464.0 323.0,465.2 329.2,465.5 335.5,464.5 341.8,463.0 348.0,460.8 354.2,458.0 360.5,455.5 366.8,454.0 373.0,452.8 376.0,452.0 382.2,450.8 388.5,450.5 394.8,449.9 398.5,449.5 404.8,450.2 411.0,450.8 417.2,453.0 423.5,455.5 429.8,457.4 434.8,458.0 441.0,457.4 447.2,454.9 453.5,451.8 459.8,449.5 466.0,448.6 472.2,448.6 477.2,449.0 482.2,450.2 488.5,452.0 494.8,454.0 501.0,455.2 504.0,455.2 510.2,455.8 516.5,456.5 522.8,457.8 529.0,459.0 535.2,459.5 541.5,458.6 547.8,457.4 554.0,456.1 560.2,454.9 566.5,454.5 572.8,453.6 579.0,452.8 582.8,452.4 589.0,453.2 595.2,454.0 601.5,454.9 607.8,455.2 614.0,454.9 620.2,454.2 626.5,453.6 632.0,453.6 638.2,451.8 644.5,449.5 650.8,447.4 657.0,444.9 663.2,444.2 669.5,445.5 675.8,448.0 682.0,450.5 688.2,452.0 694.5,454.0 700.8,456.1 707.0,457.8 713.2,458.6 719.5,459.0 732.0,459.0 738.2,459.0 744.5,460.2 750.8,461.5 757.0,462.4 762.5,462.6 768.8,461.8 771.9,461.1" fill="none" stroke="#c8181c" stroke-width="0.9"/>
<text x="-2.5" y="442" font-size="7.6" fill="#d6dbe4">1 -0.1648</text>
<text class="ax" x="991.6" y="440.9" font-size="7.5" textLength="21.7" lengthAdjust="spacingAndGlyphs">1.2531</text>
<text class="ax" x="991.6" y="460.9" font-size="7.5" textLength="14.2" lengthAdjust="spacingAndGlyphs">0.00</text>
<text class="ax" x="991.6" y="467" font-size="7.5" textLength="24.3" lengthAdjust="spacingAndGlyphs">-0.5346</text>
<rect x="990.2" y="457.5" width="1.3" height="1" fill="#b9c0cc"/>
<line x1="0" y1="476.3" x2="988.5" y2="476.3" stroke="#969fae" stroke-width="1" stroke-dasharray="1.5 1.47"/>
<line x1="0" y1="484.4" x2="988.5" y2="484.4" stroke="#969fae" stroke-width="1" stroke-dasharray="1.5 1.47"/>
<polyline points="0.0,481.8 3.9,483.8 15.5,483.8 19.4,479.9 25.8,477.3 34.9,476.7 37.5,479.0 42.6,476.7 45.2,478.0 50.4,476.9 54.2,479.2 62.0,479.9 67.2,479.2 73.6,480.3 80.1,478.0 84.0,476.4 89.1,476.4 91.7,478.0 99.5,474.7 103.3,475.6 109.8,476.0 116.2,477.3 120.0,479.2 122.5,481.8 126.2,481.1 131.2,479.9 136.2,483.0 140.0,483.0 145.0,481.1 150.0,483.6 157.5,482.4 162.5,483.0 167.5,481.8 172.5,481.8 176.2,479.9 180.0,481.1 183.8,480.5 186.9,475.5 191.2,475.2 193.8,477.4 197.5,476.1 202.5,476.8 207.5,476.1 212.5,474.9 218.8,473.6 222.5,474.9 227.5,474.9 232.5,475.8 238.8,474.9 245.0,476.8 248.0,477.4 253.0,481.5 256.8,479.2 263.0,479.0 269.2,478.2 273.0,480.5 276.8,479.5 280.5,480.5 285.5,482.4 290.5,480.5 298.0,482.4 301.8,480.5 308.0,482.8 311.8,482.8 315.5,483.6 319.2,481.8 324.2,480.5 328.0,481.8 333.0,481.1 339.2,480.5 344.2,477.4 350.5,478.0 356.8,478.6 363.0,477.4 368.0,477.4 371.8,476.1 376.0,476.1 379.8,477.4 383.5,476.1 387.2,478.0 394.8,476.8 399.8,477.8 404.8,478.0 411.0,482.4 416.0,480.5 421.0,482.4 426.0,480.5 431.0,480.2 437.2,478.0 442.2,475.2 446.0,476.5 451.0,477.4 454.8,476.1 461.0,478.0 466.0,477.4 476.0,477.1 481.0,479.9 487.2,479.9 491.0,481.5 496.0,479.2 501.0,478.0 504.0,479.2 509.0,479.9 515.2,482.8 521.5,480.5 527.8,481.8 532.8,479.2 539.0,478.6 546.5,477.8 549.0,479.2 554.0,480.2 559.0,478.6 565.2,477.0 570.2,478.0 575.2,477.8 579.0,479.0 584.0,480.2 591.5,479.2 595.2,480.5 601.5,479.5 607.8,478.6 614.0,477.8 620.2,478.0 624.0,476.5 629.0,478.0 632.0,477.4 637.0,475.5 643.2,474.5 648.2,475.8 657.0,475.5 662.0,479.0 665.8,478.6 668.2,480.2 673.2,478.6 678.2,478.2 685.8,479.2 693.2,482.4 699.5,481.1 704.5,479.0 709.5,480.2 713.2,481.5 719.5,480.2 727.0,480.2 733.2,481.1 738.2,480.5 742.0,482.4 747.0,484.5 750.8,482.0 755.8,481.1 758.8,480.2 759.5,479.9 765.0,480.2 768.1,481.5 770.0,480.5 771.9,481.8" fill="none" stroke="#1f6fc0" stroke-width="1"/>
<text class="ax" x="991.6" y="477.8" font-size="7.5" textLength="11.6" lengthAdjust="spacingAndGlyphs">100</text>
<text class="ax" x="991.6" y="477.8" font-size="7.5" textLength="7.4" lengthAdjust="spacingAndGlyphs">70</text>
<text class="ax" x="991.6" y="486.8" font-size="7.5" textLength="7.4" lengthAdjust="spacingAndGlyphs">30</text>
</svg></body></html>
